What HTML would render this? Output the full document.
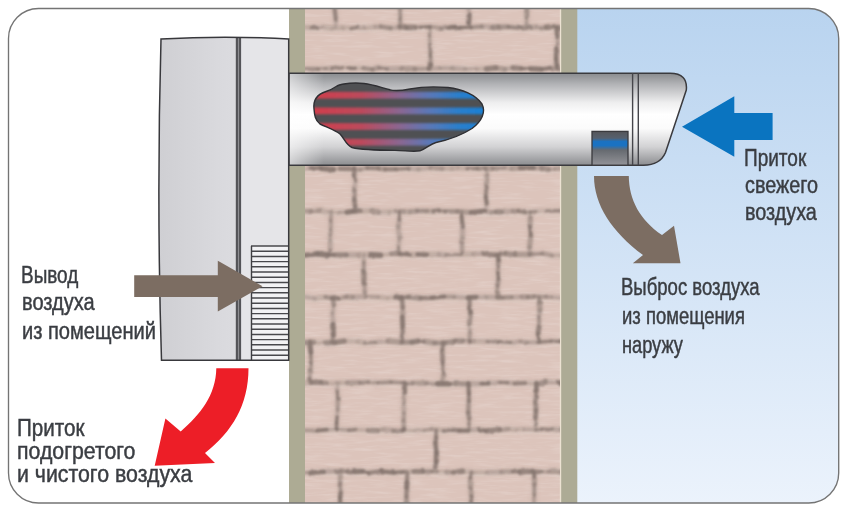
<!DOCTYPE html>
<html><head><meta charset="utf-8"><style>
html,body{margin:0;padding:0;background:#fff;}
#c{position:relative;width:846px;height:511px;overflow:hidden;background:#fff;}
.t{position:absolute;font-family:"Liberation Sans",sans-serif;line-height:1;white-space:nowrap;color:#3a3d42;transform-origin:0 0;-webkit-text-stroke:0.45px #3a3d42;}
</style></head><body><div id="c">

<svg width="846" height="511" viewBox="0 0 846 511" style="position:absolute;left:0;top:0">
<defs>
  <clipPath id="wallclip"><rect x="305" y="0" width="255" height="511"/></clipPath>
  <clipPath id="devclip"><path d="M161,39 Q225,35.5 288.7,39 L288.7,360.2 L161.5,360.2 Q156.5,200 161,39 Z"/></clipPath>
  <clipPath id="frame"><rect x="8.5" y="8.5" width="830.2" height="494.5" rx="30" ry="30"/></clipPath>
  <linearGradient id="sky" x1="0" y1="0" x2="0" y2="1">
    <stop offset="0" stop-color="#b8d3ef"/>
    <stop offset="1" stop-color="#ecf3fc"/>
  </linearGradient>
  <linearGradient id="pipeg" x1="0" y1="0" x2="0" y2="1">
    <stop offset="0" stop-color="#898b8e"/>
    <stop offset="0.12" stop-color="#b2b3b6"/>
    <stop offset="0.32" stop-color="#eeeeef"/>
    <stop offset="0.45" stop-color="#ffffff"/>
    <stop offset="0.6" stop-color="#fbfbfb"/>
    <stop offset="0.8" stop-color="#d2d2d4"/>
    <stop offset="1" stop-color="#8c8d90"/>
  </linearGradient>
  <linearGradient id="pipeL" x1="0" y1="0" x2="1" y2="0">
    <stop offset="0" stop-color="#ffffff" stop-opacity="0.55"/>
    <stop offset="1" stop-color="#ffffff" stop-opacity="0"/>
  </linearGradient>
  <linearGradient id="devL" x1="0" y1="0" x2="1" y2="0">
    <stop offset="0" stop-color="#cfcfd3"/>
    <stop offset="0.5" stop-color="#dadade"/>
    <stop offset="1" stop-color="#e1e1e4"/>
  </linearGradient>
  <linearGradient id="sq" x1="0" y1="0" x2="0" y2="1">
    <stop offset="0" stop-color="#55565a"/>
    <stop offset="0.2" stop-color="#56606e"/>
    <stop offset="0.3" stop-color="#1a72c2"/>
    <stop offset="0.42" stop-color="#1a72c2"/>
    <stop offset="0.55" stop-color="#666a70"/>
    <stop offset="1" stop-color="#939398"/>
  </linearGradient>
  <linearGradient id="hx" x1="314" y1="0" x2="484" y2="0" gradientUnits="userSpaceOnUse">
    <stop offset="0" stop-color="#d03e4c"/>
    <stop offset="0.28" stop-color="#bc4a5c"/>
    <stop offset="0.5" stop-color="#8c6690"/>
    <stop offset="0.68" stop-color="#5a78b8"/>
    <stop offset="0.85" stop-color="#2a7fcc"/>
    <stop offset="1" stop-color="#1a80d4"/>
  </linearGradient>
  <clipPath id="blobclip"><path id="blobp" d="M314,109 C313,100 318,94 326,91.5 C331,90 334,88 337,86 C343,83 356,82.5 364,83.5 C373,84.5 381,87.5 390,89.8 C396,91.5 402,90.5 410,89 C420,87 436,86.5 448,87.5 C462,89 476,95 482,104 C486,112 482,121 472,128.5 C462,135 448,140 436,142.5 C430,144 426,149 420,150.8 C413,152 405,150.5 395,150.4 C380,150.3 362,150 352,147.5 C346,145 344,138 340,134 C335,130 326,127 320,124 C315,120 314.5,115 314,109 Z"/></clipPath>
  <filter id="soft" x="-5%" y="-5%" width="110%" height="110%"><feGaussianBlur stdDeviation="1.2"/></filter>
  <filter id="grain" x="305" y="0" width="255" height="511" filterUnits="userSpaceOnUse">
    <feTurbulence type="fractalNoise" baseFrequency="0.04 0.35" numOctaves="3" seed="11"/>
    <feColorMatrix type="matrix" values="0 0 0 0 1  0 0 0 0 1  0 0 0 0 1  0 0 0 -2.2 1.25"/>
  </filter>
  <filter id="halo" x="-2%" y="-2%" width="104%" height="104%"><feGaussianBlur stdDeviation="1.8"/></filter>
  <filter id="mort" x="-2%" y="-2%" width="104%" height="104%">
    <feTurbulence type="fractalNoise" baseFrequency="0.18" numOctaves="2" seed="3" result="n"/>
    <feDisplacementMap in="SourceGraphic" in2="n" scale="2.5" xChannelSelector="R" yChannelSelector="G" result="d"/>
    <feGaussianBlur in="d" stdDeviation="1.1"/>
  </filter>
</defs>
<g clip-path="url(#frame)">
  <rect x="0" y="0" width="846" height="511" fill="#ffffff"/>
  <rect x="577" y="0" width="270" height="511" fill="url(#sky)"/>
  <rect x="289" y="0" width="16.5" height="511" fill="#adab94"/>
  <rect x="561" y="0" width="16.3" height="511" fill="#adab95"/>
  <rect x="305" y="0" width="256" height="511" fill="#dcc4bb"/>
  <rect x="559.8" y="0" width="1.4" height="511" fill="#ece2d2"/>
  <rect x="305" y="0" width="255" height="511" filter="url(#grain)" opacity="0.16"/>
  <g clip-path="url(#wallclip)"><g filter="url(#mort)">
    <path d="M305,30.8 L561,30.8" stroke="#eadcd4" stroke-width="1.4" opacity="0.6"/>
<path d="M305,71.8 L561,71.8" stroke="#eadcd4" stroke-width="1.4" opacity="0.6"/>
<path d="M305,171.8 L561,171.8" stroke="#eadcd4" stroke-width="1.4" opacity="0.6"/>
<path d="M305,214.8 L561,214.8" stroke="#eadcd4" stroke-width="1.4" opacity="0.6"/>
<path d="M305,257.8 L561,257.8" stroke="#eadcd4" stroke-width="1.4" opacity="0.6"/>
<path d="M305,300.8 L561,300.8" stroke="#eadcd4" stroke-width="1.4" opacity="0.6"/>
<path d="M305,345.3 L561,345.3" stroke="#eadcd4" stroke-width="1.4" opacity="0.6"/>
<path d="M305,386.3 L561,386.3" stroke="#eadcd4" stroke-width="1.4" opacity="0.6"/>
<path d="M305,433.3 L561,433.3" stroke="#eadcd4" stroke-width="1.4" opacity="0.6"/>
<path d="M305,475.3 L561,475.3" stroke="#eadcd4" stroke-width="1.4" opacity="0.6"/>
  </g><g filter="url(#halo)"><path d="M305.0,27.2 L311.4,27.8 M311.4,27.8 L317.2,27.7 M317.2,27.7 L323.0,27.3 M323.0,27.3 L331.8,28.2 M331.8,28.2 L342.5,27.7 M342.5,27.7 L351.0,28.5 M351.0,28.5 L357.2,27.3 M357.2,27.3 L365.0,28.1 M365.0,28.1 L375.2,26.9 M375.2,26.9 L380.7,26.6 M380.7,26.6 L390.5,28.1 M390.5,28.1 L399.6,27.1 M399.6,27.1 L406.8,27.6 M406.8,27.6 L414.9,27.4 M414.9,27.4 L420.9,27.3 M420.9,27.3 L430.3,26.6 M430.3,26.6 L440.4,28.1 M440.4,28.1 L448.5,27.5 M448.5,27.5 L454.4,27.0 M454.4,27.0 L459.9,27.9 M459.9,27.9 L471.0,27.4 M471.0,27.4 L482.1,26.5 M482.1,26.5 L492.6,27.5 M492.6,27.5 L498.7,27.0 M498.7,27.0 L508.2,26.8 M508.2,26.8 L521.1,28.1 M521.1,28.1 L529.9,27.2 M529.9,27.2 L536.2,26.9 M536.2,26.9 L541.3,28.2 M541.3,28.2 L546.4,27.3 M546.4,27.3 L554.2,26.8 M554.2,26.8 L561.0,28.0 M305.0,68.9 L317.9,69.1 M317.9,69.1 L326.4,68.5 M326.4,68.5 L332.0,67.9 M332.0,67.9 L342.4,67.7 M342.4,67.7 L348.3,68.2 M348.3,68.2 L355.2,68.3 M355.2,68.3 L363.3,68.2 M363.3,68.2 L372.7,69.5 M372.7,69.5 L378.5,67.7 M378.5,67.7 L387.8,68.9 M387.8,68.9 L401.4,68.6 M401.4,68.6 L414.6,69.0 M414.6,69.0 L427.4,68.9 M427.4,68.9 L440.5,68.2 M440.5,68.2 L452.6,68.2 M452.6,68.2 L464.7,69.0 M464.7,69.0 L477.0,69.0 M477.0,69.0 L486.5,69.0 M486.5,69.0 L495.7,67.9 M495.7,67.9 L504.7,69.4 M504.7,69.4 L513.0,67.9 M513.0,67.9 L521.0,68.5 M521.0,68.5 L530.4,68.8 M530.4,68.8 L541.3,69.3 M541.3,69.3 L550.6,67.9 M550.6,67.9 L561.0,69.4 M305.0,168.9 L310.8,167.8 M310.8,167.8 L321.1,168.4 M321.1,168.4 L333.5,169.5 M333.5,169.5 L339.9,168.6 M339.9,168.6 L353.7,168.8 M353.7,168.8 L359.9,169.5 M359.9,169.5 L366.8,168.0 M366.8,168.0 L378.7,168.2 M378.7,168.2 L384.9,169.3 M384.9,169.3 L395.8,169.1 M395.8,169.1 L409.1,168.5 M409.1,168.5 L418.7,169.2 M418.7,169.2 L430.7,167.8 M430.7,167.8 L442.2,168.6 M442.2,168.6 L452.0,168.5 M452.0,168.5 L457.5,167.9 M457.5,167.9 L467.1,168.6 M467.1,168.6 L477.6,168.5 M477.6,168.5 L485.1,168.5 M485.1,168.5 L492.3,168.5 M492.3,168.5 L505.3,167.9 M505.3,167.9 L511.4,168.4 M511.4,168.4 L520.3,167.9 M520.3,167.9 L533.3,167.8 M533.3,167.8 L541.6,168.0 M541.6,168.0 L548.6,169.4 M548.6,169.4 L555.1,168.8 M555.1,168.8 L561.0,168.5 M305.0,211.3 L310.8,211.2 M310.8,211.2 L319.8,210.5 M319.8,210.5 L327.5,212.4 M327.5,212.4 L339.5,212.4 M339.5,212.4 L347.0,212.3 M347.0,212.3 L353.2,211.3 M353.2,211.3 L360.5,210.8 M360.5,210.8 L371.8,210.7 M371.8,210.7 L378.4,212.3 M378.4,212.3 L389.2,212.1 M389.2,212.1 L396.2,211.0 M396.2,211.0 L404.2,211.6 M404.2,211.6 L409.6,211.9 M409.6,211.9 L417.0,210.9 M417.0,210.9 L426.7,210.9 M426.7,210.9 L433.3,211.2 M433.3,211.2 L438.7,210.5 M438.7,210.5 L445.4,211.4 M445.4,211.4 L457.7,211.4 M457.7,211.4 L470.7,212.4 M470.7,212.4 L484.6,211.2 M484.6,211.2 L490.8,212.5 M490.8,212.5 L496.0,211.8 M496.0,211.8 L501.5,211.8 M501.5,211.8 L512.5,211.1 M512.5,211.1 L517.9,210.9 M517.9,210.9 L525.3,212.4 M525.3,212.4 L530.6,212.3 M530.6,212.3 L535.6,211.3 M535.6,211.3 L546.5,211.0 M546.5,211.0 L558.9,210.8 M558.9,210.8 L561.0,211.1 M305.0,255.2 L317.7,253.8 M317.7,253.8 L328.0,255.0 M328.0,255.0 L334.4,254.9 M334.4,254.9 L346.8,254.9 M346.8,254.9 L358.4,255.1 M358.4,255.1 L370.2,254.6 M370.2,254.6 L380.5,255.3 M380.5,255.3 L391.2,253.7 M391.2,253.7 L399.5,253.7 M399.5,253.7 L410.1,254.8 M410.1,254.8 L417.5,254.4 M417.5,254.4 L427.0,254.6 M427.0,254.6 L438.7,254.4 M438.7,254.4 L445.9,255.0 M445.9,255.0 L459.6,254.5 M459.6,254.5 L472.8,254.1 M472.8,254.1 L483.6,253.7 M483.6,253.7 L494.5,254.9 M494.5,254.9 L499.6,253.6 M499.6,253.6 L505.5,253.9 M505.5,253.9 L515.1,254.4 M515.1,254.4 L529.1,254.6 M529.1,254.6 L542.5,253.5 M542.5,253.5 L552.1,255.5 M552.1,255.5 L561.0,255.4 M305.0,296.9 L314.7,298.4 M314.7,298.4 L325.4,297.1 M325.4,297.1 L332.5,298.3 M332.5,298.3 L338.9,298.4 M338.9,298.4 L346.6,296.8 M346.6,296.8 L352.7,297.2 M352.7,297.2 L365.3,296.7 M365.3,296.7 L378.4,297.1 M378.4,297.1 L386.9,298.2 M386.9,298.2 L395.8,297.1 M395.8,297.1 L401.2,297.8 M401.2,297.8 L408.5,297.0 M408.5,297.0 L420.4,298.1 M420.4,298.1 L432.7,297.8 M432.7,297.8 L444.2,296.6 M444.2,296.6 L454.7,296.8 M454.7,296.8 L467.9,297.6 M467.9,297.6 L476.0,297.1 M476.0,297.1 L486.9,297.3 M486.9,297.3 L496.9,297.3 M496.9,297.3 L502.6,297.5 M502.6,297.5 L511.7,297.2 M511.7,297.2 L521.6,297.0 M521.6,297.0 L527.4,297.0 M527.4,297.0 L534.3,296.5 M534.3,296.5 L546.0,296.9 M546.0,296.9 L551.5,297.1 M551.5,297.1 L561.0,297.8 M305.0,342.6 L313.5,342.3 M313.5,342.3 L326.1,342.7 M326.1,342.7 L334.9,342.5 M334.9,342.5 L344.3,341.1 M344.3,341.1 L358.1,341.5 M358.1,341.5 L364.5,342.9 M364.5,342.9 L375.9,342.3 M375.9,342.3 L387.9,341.0 M387.9,341.0 L401.2,342.3 M401.2,342.3 L411.9,342.1 M411.9,342.1 L417.9,341.1 M417.9,341.1 L424.6,341.5 M424.6,341.5 L434.4,343.0 M434.4,343.0 L445.2,342.8 M445.2,342.8 L455.2,341.1 M455.2,341.1 L462.9,341.0 M462.9,341.0 L473.7,341.2 M473.7,341.2 L487.1,341.5 M487.1,341.5 L498.5,341.7 M498.5,341.7 L510.7,342.5 M510.7,342.5 L520.2,341.4 M520.2,341.4 L527.2,342.5 M527.2,342.5 L537.8,342.2 M537.8,342.2 L551.0,341.1 M551.0,341.1 L559.5,341.4 M559.5,341.4 L561.0,341.1 M305.0,383.3 L312.8,382.2 M312.8,382.2 L320.8,382.4 M320.8,382.4 L326.1,383.3 M326.1,383.3 L339.9,382.9 M339.9,382.9 L347.5,382.7 M347.5,382.7 L359.3,382.8 M359.3,382.8 L368.2,382.1 M368.2,382.1 L378.1,382.9 M378.1,382.9 L391.1,382.1 M391.1,382.1 L401.8,382.8 M401.8,382.8 L407.3,383.8 M407.3,383.8 L412.9,383.2 M412.9,383.2 L426.5,383.2 M426.5,383.2 L437.7,383.8 M437.7,383.8 L449.5,383.8 M449.5,383.8 L455.1,383.7 M455.1,383.7 L468.7,383.9 M468.7,383.9 L481.9,383.6 M481.9,383.6 L488.6,383.6 M488.6,383.6 L499.8,382.3 M499.8,382.3 L507.7,382.7 M507.7,382.7 L514.5,383.5 M514.5,383.5 L525.3,383.0 M525.3,383.0 L539.1,383.8 M539.1,383.8 L544.9,382.2 M544.9,382.2 L558.6,382.3 M558.6,382.3 L561.0,383.3 M305.0,430.4 L316.8,430.6 M316.8,430.6 L326.9,429.7 M326.9,429.7 L335.9,429.4 M335.9,429.4 L348.9,430.2 M348.9,430.2 L356.1,429.5 M356.1,429.5 L368.4,430.3 M368.4,430.3 L377.7,430.6 M377.7,430.6 L383.0,429.6 M383.0,429.6 L393.4,430.7 M393.4,430.7 L401.8,430.7 M401.8,430.7 L413.8,430.3 M413.8,430.3 L424.1,430.2 M424.1,430.2 L432.2,429.1 M432.2,429.1 L443.8,430.8 M443.8,430.8 L452.5,429.7 M452.5,429.7 L459.3,430.6 M459.3,430.6 L468.0,430.6 M468.0,430.6 L478.7,429.2 M478.7,429.2 L486.2,431.0 M486.2,431.0 L499.7,429.6 M499.7,429.6 L508.5,429.0 M508.5,429.0 L517.0,429.8 M517.0,429.8 L523.4,429.2 M523.4,429.2 L536.3,429.9 M536.3,429.9 L541.8,429.3 M541.8,429.3 L552.4,429.7 M552.4,429.7 L560.5,429.3 M560.5,429.3 L561.0,430.0 M305.0,472.5 L310.4,472.8 M310.4,472.8 L323.7,471.8 M323.7,471.8 L336.1,471.3 M336.1,471.3 L346.7,471.4 M346.7,471.4 L353.6,471.8 M353.6,471.8 L361.9,471.3 M361.9,471.3 L368.6,472.8 M368.6,472.8 L381.2,471.2 M381.2,471.2 L393.8,472.6 M393.8,472.6 L404.0,471.9 M404.0,471.9 L413.6,471.4 M413.6,471.4 L423.0,471.5 M423.0,471.5 L432.1,471.4 M432.1,471.4 L437.7,471.7 M437.7,471.7 L446.7,472.0 M446.7,472.0 L452.9,472.8 M452.9,472.8 L462.5,471.1 M462.5,471.1 L473.3,472.6 M473.3,472.6 L487.3,472.5 M487.3,472.5 L501.1,472.0 M501.1,472.0 L512.6,471.4 M512.6,471.4 L519.9,471.6 M519.9,471.6 L532.2,471.3 M532.2,471.3 L541.6,472.2 M541.6,472.2 L549.4,471.1 M549.4,471.1 L560.2,471.6 M560.2,471.6 L561.0,472.6 M334.5,8.0 L335.8,19.0 M335.8,19.0 L335.7,27.5 M400.0,8.0 L400.4,19.0 M400.4,19.0 L400.1,27.5 M468.5,8.0 L469.2,14.6 M469.2,14.6 L468.7,23.2 M468.7,23.2 L469.4,27.5 M526.7,8.0 L526.9,17.4 M526.9,17.4 L526.5,23.3 M526.5,23.3 L526.7,27.5 M430.0,27.5 L429.6,35.4 M429.6,35.4 L430.0,44.8 M430.0,44.8 L430.4,55.4 M430.4,55.4 L430.7,64.8 M430.7,64.8 L429.1,68.5 M557.1,27.5 L557.2,36.5 M557.2,36.5 L557.7,43.3 M557.7,43.3 L556.4,48.5 M556.4,48.5 L556.1,58.9 M556.1,58.9 L556.8,65.3 M556.8,65.3 L557.3,68.5 M354.8,168.5 L354.2,175.6 M354.2,175.6 L355.6,180.6 M355.6,180.6 L354.4,190.2 M354.4,190.2 L354.3,199.7 M354.3,199.7 L355.1,206.6 M355.1,206.6 L355.8,211.5 M486.6,168.5 L486.7,175.0 M486.7,175.0 L486.6,186.4 M486.6,186.4 L485.7,196.6 M485.7,196.6 L486.7,203.2 M486.7,203.2 L486.4,211.5 M331.3,211.5 L330.7,220.5 M330.7,220.5 L331.1,229.6 M331.1,229.6 L330.3,234.8 M330.3,234.8 L330.2,240.8 M330.2,240.8 L330.2,250.3 M330.2,250.3 L331.2,254.5 M399.5,211.5 L399.3,220.2 M399.3,220.2 L398.3,226.7 M398.3,226.7 L399.5,238.1 M399.5,238.1 L398.6,247.5 M398.6,247.5 L399.3,254.5 M461.9,211.5 L461.6,216.6 M461.6,216.6 L462.7,227.0 M462.7,227.0 L462.2,237.9 M462.2,237.9 L462.0,243.1 M462.0,243.1 L462.1,253.1 M462.1,253.1 L462.1,254.5 M529.4,211.5 L530.5,217.9 M530.5,217.9 L530.0,226.4 M530.0,226.4 L530.8,235.5 M530.8,235.5 L529.6,247.1 M529.6,247.1 L529.4,253.7 M529.4,253.7 L530.1,254.5 M363.8,254.5 L363.8,262.3 M363.8,262.3 L363.8,271.8 M363.8,271.8 L364.0,283.1 M364.0,283.1 L364.8,292.6 M364.8,292.6 L364.5,297.5 M497.8,254.5 L498.6,260.6 M498.6,260.6 L497.9,266.8 M497.9,266.8 L497.9,272.7 M497.9,272.7 L498.5,279.5 M498.5,279.5 L497.5,285.6 M497.5,285.6 L497.5,293.1 M497.5,293.1 L498.9,297.5 M332.5,297.5 L333.9,305.2 M333.9,305.2 L332.5,313.2 M332.5,313.2 L332.9,324.4 M332.9,324.4 L333.3,335.0 M333.3,335.0 L332.1,342.0 M401.9,297.5 L402.7,307.7 M402.7,307.7 L402.3,316.8 M402.3,316.8 L402.7,326.4 M402.7,326.4 L402.3,336.1 M402.3,336.1 L402.4,342.0 M469.9,297.5 L469.4,307.5 M469.4,307.5 L470.6,312.6 M470.6,312.6 L469.4,324.1 M469.4,324.1 L470.0,331.9 M470.0,331.9 L469.4,340.7 M469.4,340.7 L470.1,342.0 M539.0,297.5 L539.5,302.6 M539.5,302.6 L539.8,310.5 M539.8,310.5 L539.0,316.8 M539.0,316.8 L539.2,326.1 M539.2,326.1 L538.1,333.9 M538.1,333.9 L539.3,342.0 M309.7,342.0 L310.8,352.2 M310.8,352.2 L310.8,364.1 M310.8,364.1 L310.5,370.1 M310.5,370.1 L309.5,379.0 M309.5,379.0 L310.6,383.0 M442.8,342.0 L442.3,350.8 M442.3,350.8 L442.6,361.8 M442.6,361.8 L443.3,373.7 M443.3,373.7 L442.6,383.0 M336.8,383.0 L337.2,391.4 M337.2,391.4 L337.8,398.9 M337.8,398.9 L337.7,409.7 M337.7,409.7 L337.1,417.1 M337.1,417.1 L336.6,422.6 M336.6,422.6 L336.5,428.6 M336.5,428.6 L337.7,430.0 M404.5,383.0 L404.5,392.3 M404.5,392.3 L403.5,403.1 M403.5,403.1 L403.9,413.3 M403.9,413.3 L403.5,420.2 M403.5,420.2 L404.0,429.1 M404.0,429.1 L403.4,430.0 M468.4,383.0 L468.9,393.9 M468.9,393.9 L468.9,401.0 M468.9,401.0 L468.2,412.7 M468.2,412.7 L469.2,417.9 M469.2,417.9 L469.0,423.5 M469.0,423.5 L469.2,430.0 M536.2,383.0 L536.5,390.4 M536.5,390.4 L535.9,396.9 M535.9,396.9 L535.6,402.2 M535.6,402.2 L536.0,410.1 M536.0,410.1 L535.5,417.5 M535.5,417.5 L535.7,424.8 M535.7,424.8 L535.3,430.0 M436.1,430.0 L436.1,437.8 M436.1,437.8 L435.4,442.9 M435.4,442.9 L436.5,452.5 M436.5,452.5 L436.2,461.8 M436.2,461.8 L435.2,467.4 M435.2,467.4 L436.3,472.0 M340.5,472.0 L340.1,483.5 M340.1,483.5 L340.6,492.4 M340.6,492.4 L340.1,497.7 M340.1,497.7 L340.2,504.0 M407.4,472.0 L406.9,482.4 M406.9,482.4 L406.8,487.5 M406.8,487.5 L406.4,497.1 M406.4,497.1 L406.9,502.7 M406.9,502.7 L406.1,504.0 M471.4,472.0 L470.3,478.5 M470.3,478.5 L470.5,488.6 M470.5,488.6 L471.4,496.1 M471.4,496.1 L471.2,501.7 M471.2,501.7 L470.6,504.0 M533.4,472.0 L534.3,477.1 M534.3,477.1 L534.4,484.3 M534.4,484.3 L534.2,495.1 M534.2,495.1 L533.9,504.0" stroke="#a8958d" stroke-opacity="0.22" stroke-width="7" stroke-linecap="round" stroke-linejoin="round" fill="none"/></g><g filter="url(#mort)">
    <path d="M305.0,27.2 L311.4,27.8" stroke="#85766f" stroke-opacity="0.2" stroke-width="5.1" stroke-linecap="round" fill="none"/>
<path d="M311.4,27.8 L317.2,27.7" stroke="#85766f" stroke-opacity="0.75" stroke-width="3.5" stroke-linecap="round" fill="none"/>
<path d="M317.2,27.7 L323.0,27.3" stroke="#85766f" stroke-opacity="0.3" stroke-width="3.2" stroke-linecap="round" fill="none"/>
<path d="M323.0,27.3 L331.8,28.2" stroke="#85766f" stroke-opacity="0.2" stroke-width="5.4" stroke-linecap="round" fill="none"/>
<path d="M331.8,28.2 L342.5,27.7" stroke="#85766f" stroke-opacity="0.2" stroke-width="4.4" stroke-linecap="round" fill="none"/>
<path d="M342.5,27.7 L351.0,28.5" stroke="#85766f" stroke-opacity="0.2" stroke-width="4.4" stroke-linecap="round" fill="none"/>
<path d="M351.0,28.5 L357.2,27.3" stroke="#85766f" stroke-opacity="0.75" stroke-width="3.3" stroke-linecap="round" fill="none"/>
<path d="M357.2,27.3 L365.0,28.1" stroke="#85766f" stroke-opacity="0.3" stroke-width="3.3" stroke-linecap="round" fill="none"/>
<path d="M365.0,28.1 L375.2,26.9" stroke="#85766f" stroke-opacity="0.2" stroke-width="4.4" stroke-linecap="round" fill="none"/>
<path d="M375.2,26.9 L380.7,26.6" stroke="#85766f" stroke-opacity="0.3" stroke-width="4.2" stroke-linecap="round" fill="none"/>
<path d="M380.7,26.6 L390.5,28.1" stroke="#85766f" stroke-opacity="0.6" stroke-width="4.5" stroke-linecap="round" fill="none"/>
<path d="M390.5,28.1 L399.6,27.1" stroke="#85766f" stroke-opacity="0.3" stroke-width="4.7" stroke-linecap="round" fill="none"/>
<path d="M399.6,27.1 L406.8,27.6" stroke="#85766f" stroke-opacity="0.75" stroke-width="4.2" stroke-linecap="round" fill="none"/>
<path d="M406.8,27.6 L414.9,27.4" stroke="#85766f" stroke-opacity="0.75" stroke-width="5.5" stroke-linecap="round" fill="none"/>
<path d="M414.9,27.4 L420.9,27.3" stroke="#85766f" stroke-opacity="0.45" stroke-width="3.4" stroke-linecap="round" fill="none"/>
<path d="M420.9,27.3 L430.3,26.6" stroke="#85766f" stroke-opacity="0.9" stroke-width="3.2" stroke-linecap="round" fill="none"/>
<path d="M430.3,26.6 L440.4,28.1" stroke="#85766f" stroke-opacity="0.45" stroke-width="3.9" stroke-linecap="round" fill="none"/>
<path d="M440.4,28.1 L448.5,27.5" stroke="#85766f" stroke-opacity="0.6" stroke-width="3.2" stroke-linecap="round" fill="none"/>
<path d="M448.5,27.5 L454.4,27.0" stroke="#85766f" stroke-opacity="0.9" stroke-width="4.7" stroke-linecap="round" fill="none"/>
<path d="M454.4,27.0 L459.9,27.9" stroke="#85766f" stroke-opacity="0.9" stroke-width="4.4" stroke-linecap="round" fill="none"/>
<path d="M459.9,27.9 L471.0,27.4" stroke="#85766f" stroke-opacity="0.9" stroke-width="4.0" stroke-linecap="round" fill="none"/>
<path d="M471.0,27.4 L482.1,26.5" stroke="#85766f" stroke-opacity="0.6" stroke-width="3.9" stroke-linecap="round" fill="none"/>
<path d="M482.1,26.5 L492.6,27.5" stroke="#85766f" stroke-opacity="0.3" stroke-width="4.9" stroke-linecap="round" fill="none"/>
<path d="M492.6,27.5 L498.7,27.0" stroke="#85766f" stroke-opacity="0.6" stroke-width="5.3" stroke-linecap="round" fill="none"/>
<path d="M498.7,27.0 L508.2,26.8" stroke="#85766f" stroke-opacity="0.6" stroke-width="4.4" stroke-linecap="round" fill="none"/>
<path d="M508.2,26.8 L521.1,28.1" stroke="#85766f" stroke-opacity="0.75" stroke-width="3.7" stroke-linecap="round" fill="none"/>
<path d="M521.1,28.1 L529.9,27.2" stroke="#85766f" stroke-opacity="0.6" stroke-width="5.4" stroke-linecap="round" fill="none"/>
<path d="M529.9,27.2 L536.2,26.9" stroke="#85766f" stroke-opacity="0.3" stroke-width="4.6" stroke-linecap="round" fill="none"/>
<path d="M536.2,26.9 L541.3,28.2" stroke="#85766f" stroke-opacity="0.3" stroke-width="3.7" stroke-linecap="round" fill="none"/>
<path d="M541.3,28.2 L546.4,27.3" stroke="#85766f" stroke-opacity="0.45" stroke-width="4.5" stroke-linecap="round" fill="none"/>
<path d="M546.4,27.3 L554.2,26.8" stroke="#85766f" stroke-opacity="0.75" stroke-width="5.4" stroke-linecap="round" fill="none"/>
<path d="M554.2,26.8 L561.0,28.0" stroke="#85766f" stroke-opacity="0.6" stroke-width="5.2" stroke-linecap="round" fill="none"/>
<path d="M305.0,68.9 L317.9,69.1" stroke="#85766f" stroke-opacity="0.6" stroke-width="4.0" stroke-linecap="round" fill="none"/>
<path d="M317.9,69.1 L326.4,68.5" stroke="#85766f" stroke-opacity="0.6" stroke-width="3.2" stroke-linecap="round" fill="none"/>
<path d="M326.4,68.5 L332.0,67.9" stroke="#85766f" stroke-opacity="0.3" stroke-width="3.3" stroke-linecap="round" fill="none"/>
<path d="M332.0,67.9 L342.4,67.7" stroke="#85766f" stroke-opacity="0.75" stroke-width="3.4" stroke-linecap="round" fill="none"/>
<path d="M342.4,67.7 L348.3,68.2" stroke="#85766f" stroke-opacity="0.2" stroke-width="3.2" stroke-linecap="round" fill="none"/>
<path d="M348.3,68.2 L355.2,68.3" stroke="#85766f" stroke-opacity="0.9" stroke-width="3.6" stroke-linecap="round" fill="none"/>
<path d="M355.2,68.3 L363.3,68.2" stroke="#85766f" stroke-opacity="0.2" stroke-width="3.3" stroke-linecap="round" fill="none"/>
<path d="M363.3,68.2 L372.7,69.5" stroke="#85766f" stroke-opacity="0.6" stroke-width="4.2" stroke-linecap="round" fill="none"/>
<path d="M372.7,69.5 L378.5,67.7" stroke="#85766f" stroke-opacity="0.45" stroke-width="4.9" stroke-linecap="round" fill="none"/>
<path d="M378.5,67.7 L387.8,68.9" stroke="#85766f" stroke-opacity="0.75" stroke-width="3.1" stroke-linecap="round" fill="none"/>
<path d="M387.8,68.9 L401.4,68.6" stroke="#85766f" stroke-opacity="0.3" stroke-width="4.7" stroke-linecap="round" fill="none"/>
<path d="M401.4,68.6 L414.6,69.0" stroke="#85766f" stroke-opacity="0.45" stroke-width="5.4" stroke-linecap="round" fill="none"/>
<path d="M414.6,69.0 L427.4,68.9" stroke="#85766f" stroke-opacity="0.45" stroke-width="4.3" stroke-linecap="round" fill="none"/>
<path d="M427.4,68.9 L440.5,68.2" stroke="#85766f" stroke-opacity="0.3" stroke-width="4.3" stroke-linecap="round" fill="none"/>
<path d="M440.5,68.2 L452.6,68.2" stroke="#85766f" stroke-opacity="0.3" stroke-width="4.5" stroke-linecap="round" fill="none"/>
<path d="M452.6,68.2 L464.7,69.0" stroke="#85766f" stroke-opacity="0.3" stroke-width="5.0" stroke-linecap="round" fill="none"/>
<path d="M464.7,69.0 L477.0,69.0" stroke="#85766f" stroke-opacity="0.3" stroke-width="3.5" stroke-linecap="round" fill="none"/>
<path d="M477.0,69.0 L486.5,69.0" stroke="#85766f" stroke-opacity="0.2" stroke-width="5.0" stroke-linecap="round" fill="none"/>
<path d="M486.5,69.0 L495.7,67.9" stroke="#85766f" stroke-opacity="0.75" stroke-width="5.4" stroke-linecap="round" fill="none"/>
<path d="M495.7,67.9 L504.7,69.4" stroke="#85766f" stroke-opacity="0.45" stroke-width="5.4" stroke-linecap="round" fill="none"/>
<path d="M504.7,69.4 L513.0,67.9" stroke="#85766f" stroke-opacity="0.3" stroke-width="4.2" stroke-linecap="round" fill="none"/>
<path d="M513.0,67.9 L521.0,68.5" stroke="#85766f" stroke-opacity="0.75" stroke-width="5.1" stroke-linecap="round" fill="none"/>
<path d="M521.0,68.5 L530.4,68.8" stroke="#85766f" stroke-opacity="0.9" stroke-width="3.2" stroke-linecap="round" fill="none"/>
<path d="M530.4,68.8 L541.3,69.3" stroke="#85766f" stroke-opacity="0.9" stroke-width="4.9" stroke-linecap="round" fill="none"/>
<path d="M541.3,69.3 L550.6,67.9" stroke="#85766f" stroke-opacity="0.9" stroke-width="3.8" stroke-linecap="round" fill="none"/>
<path d="M550.6,67.9 L561.0,69.4" stroke="#85766f" stroke-opacity="0.6" stroke-width="4.2" stroke-linecap="round" fill="none"/>
<path d="M305.0,168.9 L310.8,167.8" stroke="#85766f" stroke-opacity="0.3" stroke-width="3.1" stroke-linecap="round" fill="none"/>
<path d="M310.8,167.8 L321.1,168.4" stroke="#85766f" stroke-opacity="0.9" stroke-width="3.4" stroke-linecap="round" fill="none"/>
<path d="M321.1,168.4 L333.5,169.5" stroke="#85766f" stroke-opacity="0.9" stroke-width="5.3" stroke-linecap="round" fill="none"/>
<path d="M333.5,169.5 L339.9,168.6" stroke="#85766f" stroke-opacity="0.2" stroke-width="3.0" stroke-linecap="round" fill="none"/>
<path d="M339.9,168.6 L353.7,168.8" stroke="#85766f" stroke-opacity="0.75" stroke-width="4.9" stroke-linecap="round" fill="none"/>
<path d="M353.7,168.8 L359.9,169.5" stroke="#85766f" stroke-opacity="0.3" stroke-width="5.1" stroke-linecap="round" fill="none"/>
<path d="M359.9,169.5 L366.8,168.0" stroke="#85766f" stroke-opacity="0.45" stroke-width="4.3" stroke-linecap="round" fill="none"/>
<path d="M366.8,168.0 L378.7,168.2" stroke="#85766f" stroke-opacity="0.75" stroke-width="4.0" stroke-linecap="round" fill="none"/>
<path d="M378.7,168.2 L384.9,169.3" stroke="#85766f" stroke-opacity="0.45" stroke-width="5.2" stroke-linecap="round" fill="none"/>
<path d="M384.9,169.3 L395.8,169.1" stroke="#85766f" stroke-opacity="0.75" stroke-width="4.1" stroke-linecap="round" fill="none"/>
<path d="M395.8,169.1 L409.1,168.5" stroke="#85766f" stroke-opacity="0.75" stroke-width="3.4" stroke-linecap="round" fill="none"/>
<path d="M409.1,168.5 L418.7,169.2" stroke="#85766f" stroke-opacity="0.3" stroke-width="4.5" stroke-linecap="round" fill="none"/>
<path d="M418.7,169.2 L430.7,167.8" stroke="#85766f" stroke-opacity="0.3" stroke-width="4.2" stroke-linecap="round" fill="none"/>
<path d="M430.7,167.8 L442.2,168.6" stroke="#85766f" stroke-opacity="0.45" stroke-width="4.7" stroke-linecap="round" fill="none"/>
<path d="M442.2,168.6 L452.0,168.5" stroke="#85766f" stroke-opacity="0.2" stroke-width="5.2" stroke-linecap="round" fill="none"/>
<path d="M452.0,168.5 L457.5,167.9" stroke="#85766f" stroke-opacity="0.2" stroke-width="4.9" stroke-linecap="round" fill="none"/>
<path d="M457.5,167.9 L467.1,168.6" stroke="#85766f" stroke-opacity="0.2" stroke-width="4.1" stroke-linecap="round" fill="none"/>
<path d="M467.1,168.6 L477.6,168.5" stroke="#85766f" stroke-opacity="0.75" stroke-width="3.5" stroke-linecap="round" fill="none"/>
<path d="M477.6,168.5 L485.1,168.5" stroke="#85766f" stroke-opacity="0.6" stroke-width="4.3" stroke-linecap="round" fill="none"/>
<path d="M485.1,168.5 L492.3,168.5" stroke="#85766f" stroke-opacity="0.45" stroke-width="5.3" stroke-linecap="round" fill="none"/>
<path d="M492.3,168.5 L505.3,167.9" stroke="#85766f" stroke-opacity="0.6" stroke-width="3.3" stroke-linecap="round" fill="none"/>
<path d="M505.3,167.9 L511.4,168.4" stroke="#85766f" stroke-opacity="0.2" stroke-width="4.7" stroke-linecap="round" fill="none"/>
<path d="M511.4,168.4 L520.3,167.9" stroke="#85766f" stroke-opacity="0.45" stroke-width="5.0" stroke-linecap="round" fill="none"/>
<path d="M520.3,167.9 L533.3,167.8" stroke="#85766f" stroke-opacity="0.9" stroke-width="4.6" stroke-linecap="round" fill="none"/>
<path d="M533.3,167.8 L541.6,168.0" stroke="#85766f" stroke-opacity="0.3" stroke-width="5.4" stroke-linecap="round" fill="none"/>
<path d="M541.6,168.0 L548.6,169.4" stroke="#85766f" stroke-opacity="0.6" stroke-width="5.2" stroke-linecap="round" fill="none"/>
<path d="M548.6,169.4 L555.1,168.8" stroke="#85766f" stroke-opacity="0.3" stroke-width="3.4" stroke-linecap="round" fill="none"/>
<path d="M555.1,168.8 L561.0,168.5" stroke="#85766f" stroke-opacity="0.45" stroke-width="4.1" stroke-linecap="round" fill="none"/>
<path d="M305.0,211.3 L310.8,211.2" stroke="#85766f" stroke-opacity="0.45" stroke-width="4.4" stroke-linecap="round" fill="none"/>
<path d="M310.8,211.2 L319.8,210.5" stroke="#85766f" stroke-opacity="0.45" stroke-width="4.3" stroke-linecap="round" fill="none"/>
<path d="M319.8,210.5 L327.5,212.4" stroke="#85766f" stroke-opacity="0.2" stroke-width="5.5" stroke-linecap="round" fill="none"/>
<path d="M327.5,212.4 L339.5,212.4" stroke="#85766f" stroke-opacity="0.2" stroke-width="3.2" stroke-linecap="round" fill="none"/>
<path d="M339.5,212.4 L347.0,212.3" stroke="#85766f" stroke-opacity="0.3" stroke-width="3.7" stroke-linecap="round" fill="none"/>
<path d="M347.0,212.3 L353.2,211.3" stroke="#85766f" stroke-opacity="0.9" stroke-width="5.0" stroke-linecap="round" fill="none"/>
<path d="M353.2,211.3 L360.5,210.8" stroke="#85766f" stroke-opacity="0.75" stroke-width="4.4" stroke-linecap="round" fill="none"/>
<path d="M360.5,210.8 L371.8,210.7" stroke="#85766f" stroke-opacity="0.2" stroke-width="5.0" stroke-linecap="round" fill="none"/>
<path d="M371.8,210.7 L378.4,212.3" stroke="#85766f" stroke-opacity="0.45" stroke-width="5.3" stroke-linecap="round" fill="none"/>
<path d="M378.4,212.3 L389.2,212.1" stroke="#85766f" stroke-opacity="0.2" stroke-width="4.5" stroke-linecap="round" fill="none"/>
<path d="M389.2,212.1 L396.2,211.0" stroke="#85766f" stroke-opacity="0.2" stroke-width="4.1" stroke-linecap="round" fill="none"/>
<path d="M396.2,211.0 L404.2,211.6" stroke="#85766f" stroke-opacity="0.45" stroke-width="4.6" stroke-linecap="round" fill="none"/>
<path d="M404.2,211.6 L409.6,211.9" stroke="#85766f" stroke-opacity="0.2" stroke-width="5.4" stroke-linecap="round" fill="none"/>
<path d="M409.6,211.9 L417.0,210.9" stroke="#85766f" stroke-opacity="0.45" stroke-width="4.6" stroke-linecap="round" fill="none"/>
<path d="M417.0,210.9 L426.7,210.9" stroke="#85766f" stroke-opacity="0.6" stroke-width="4.3" stroke-linecap="round" fill="none"/>
<path d="M426.7,210.9 L433.3,211.2" stroke="#85766f" stroke-opacity="0.2" stroke-width="5.5" stroke-linecap="round" fill="none"/>
<path d="M433.3,211.2 L438.7,210.5" stroke="#85766f" stroke-opacity="0.75" stroke-width="4.4" stroke-linecap="round" fill="none"/>
<path d="M438.7,210.5 L445.4,211.4" stroke="#85766f" stroke-opacity="0.6" stroke-width="3.3" stroke-linecap="round" fill="none"/>
<path d="M445.4,211.4 L457.7,211.4" stroke="#85766f" stroke-opacity="0.6" stroke-width="4.4" stroke-linecap="round" fill="none"/>
<path d="M457.7,211.4 L470.7,212.4" stroke="#85766f" stroke-opacity="0.45" stroke-width="4.7" stroke-linecap="round" fill="none"/>
<path d="M470.7,212.4 L484.6,211.2" stroke="#85766f" stroke-opacity="0.9" stroke-width="4.8" stroke-linecap="round" fill="none"/>
<path d="M484.6,211.2 L490.8,212.5" stroke="#85766f" stroke-opacity="0.2" stroke-width="5.1" stroke-linecap="round" fill="none"/>
<path d="M490.8,212.5 L496.0,211.8" stroke="#85766f" stroke-opacity="0.45" stroke-width="4.1" stroke-linecap="round" fill="none"/>
<path d="M496.0,211.8 L501.5,211.8" stroke="#85766f" stroke-opacity="0.6" stroke-width="5.2" stroke-linecap="round" fill="none"/>
<path d="M501.5,211.8 L512.5,211.1" stroke="#85766f" stroke-opacity="0.3" stroke-width="4.7" stroke-linecap="round" fill="none"/>
<path d="M512.5,211.1 L517.9,210.9" stroke="#85766f" stroke-opacity="0.45" stroke-width="4.1" stroke-linecap="round" fill="none"/>
<path d="M517.9,210.9 L525.3,212.4" stroke="#85766f" stroke-opacity="0.75" stroke-width="3.8" stroke-linecap="round" fill="none"/>
<path d="M525.3,212.4 L530.6,212.3" stroke="#85766f" stroke-opacity="0.3" stroke-width="3.9" stroke-linecap="round" fill="none"/>
<path d="M530.6,212.3 L535.6,211.3" stroke="#85766f" stroke-opacity="0.6" stroke-width="3.7" stroke-linecap="round" fill="none"/>
<path d="M535.6,211.3 L546.5,211.0" stroke="#85766f" stroke-opacity="0.2" stroke-width="3.2" stroke-linecap="round" fill="none"/>
<path d="M546.5,211.0 L558.9,210.8" stroke="#85766f" stroke-opacity="0.75" stroke-width="3.1" stroke-linecap="round" fill="none"/>
<path d="M558.9,210.8 L561.0,211.1" stroke="#85766f" stroke-opacity="0.3" stroke-width="3.2" stroke-linecap="round" fill="none"/>
<path d="M305.0,255.2 L317.7,253.8" stroke="#85766f" stroke-opacity="0.9" stroke-width="5.0" stroke-linecap="round" fill="none"/>
<path d="M317.7,253.8 L328.0,255.0" stroke="#85766f" stroke-opacity="0.9" stroke-width="5.5" stroke-linecap="round" fill="none"/>
<path d="M328.0,255.0 L334.4,254.9" stroke="#85766f" stroke-opacity="0.9" stroke-width="3.4" stroke-linecap="round" fill="none"/>
<path d="M334.4,254.9 L346.8,254.9" stroke="#85766f" stroke-opacity="0.75" stroke-width="4.6" stroke-linecap="round" fill="none"/>
<path d="M346.8,254.9 L358.4,255.1" stroke="#85766f" stroke-opacity="0.3" stroke-width="5.3" stroke-linecap="round" fill="none"/>
<path d="M358.4,255.1 L370.2,254.6" stroke="#85766f" stroke-opacity="0.2" stroke-width="5.1" stroke-linecap="round" fill="none"/>
<path d="M370.2,254.6 L380.5,255.3" stroke="#85766f" stroke-opacity="0.9" stroke-width="5.4" stroke-linecap="round" fill="none"/>
<path d="M380.5,255.3 L391.2,253.7" stroke="#85766f" stroke-opacity="0.2" stroke-width="3.3" stroke-linecap="round" fill="none"/>
<path d="M391.2,253.7 L399.5,253.7" stroke="#85766f" stroke-opacity="0.6" stroke-width="4.4" stroke-linecap="round" fill="none"/>
<path d="M399.5,253.7 L410.1,254.8" stroke="#85766f" stroke-opacity="0.9" stroke-width="3.6" stroke-linecap="round" fill="none"/>
<path d="M410.1,254.8 L417.5,254.4" stroke="#85766f" stroke-opacity="0.2" stroke-width="4.9" stroke-linecap="round" fill="none"/>
<path d="M417.5,254.4 L427.0,254.6" stroke="#85766f" stroke-opacity="0.9" stroke-width="4.3" stroke-linecap="round" fill="none"/>
<path d="M427.0,254.6 L438.7,254.4" stroke="#85766f" stroke-opacity="0.2" stroke-width="5.1" stroke-linecap="round" fill="none"/>
<path d="M438.7,254.4 L445.9,255.0" stroke="#85766f" stroke-opacity="0.3" stroke-width="4.8" stroke-linecap="round" fill="none"/>
<path d="M445.9,255.0 L459.6,254.5" stroke="#85766f" stroke-opacity="0.6" stroke-width="3.2" stroke-linecap="round" fill="none"/>
<path d="M459.6,254.5 L472.8,254.1" stroke="#85766f" stroke-opacity="0.2" stroke-width="4.5" stroke-linecap="round" fill="none"/>
<path d="M472.8,254.1 L483.6,253.7" stroke="#85766f" stroke-opacity="0.3" stroke-width="3.8" stroke-linecap="round" fill="none"/>
<path d="M483.6,253.7 L494.5,254.9" stroke="#85766f" stroke-opacity="0.75" stroke-width="4.4" stroke-linecap="round" fill="none"/>
<path d="M494.5,254.9 L499.6,253.6" stroke="#85766f" stroke-opacity="0.45" stroke-width="5.4" stroke-linecap="round" fill="none"/>
<path d="M499.6,253.6 L505.5,253.9" stroke="#85766f" stroke-opacity="0.6" stroke-width="3.7" stroke-linecap="round" fill="none"/>
<path d="M505.5,253.9 L515.1,254.4" stroke="#85766f" stroke-opacity="0.6" stroke-width="4.9" stroke-linecap="round" fill="none"/>
<path d="M515.1,254.4 L529.1,254.6" stroke="#85766f" stroke-opacity="0.45" stroke-width="5.4" stroke-linecap="round" fill="none"/>
<path d="M529.1,254.6 L542.5,253.5" stroke="#85766f" stroke-opacity="0.6" stroke-width="3.2" stroke-linecap="round" fill="none"/>
<path d="M542.5,253.5 L552.1,255.5" stroke="#85766f" stroke-opacity="0.45" stroke-width="4.0" stroke-linecap="round" fill="none"/>
<path d="M552.1,255.5 L561.0,255.4" stroke="#85766f" stroke-opacity="0.2" stroke-width="4.5" stroke-linecap="round" fill="none"/>
<path d="M305.0,296.9 L314.7,298.4" stroke="#85766f" stroke-opacity="0.3" stroke-width="4.5" stroke-linecap="round" fill="none"/>
<path d="M314.7,298.4 L325.4,297.1" stroke="#85766f" stroke-opacity="0.2" stroke-width="4.8" stroke-linecap="round" fill="none"/>
<path d="M325.4,297.1 L332.5,298.3" stroke="#85766f" stroke-opacity="0.6" stroke-width="4.0" stroke-linecap="round" fill="none"/>
<path d="M332.5,298.3 L338.9,298.4" stroke="#85766f" stroke-opacity="0.9" stroke-width="4.1" stroke-linecap="round" fill="none"/>
<path d="M338.9,298.4 L346.6,296.8" stroke="#85766f" stroke-opacity="0.45" stroke-width="3.9" stroke-linecap="round" fill="none"/>
<path d="M346.6,296.8 L352.7,297.2" stroke="#85766f" stroke-opacity="0.45" stroke-width="4.9" stroke-linecap="round" fill="none"/>
<path d="M352.7,297.2 L365.3,296.7" stroke="#85766f" stroke-opacity="0.3" stroke-width="4.8" stroke-linecap="round" fill="none"/>
<path d="M365.3,296.7 L378.4,297.1" stroke="#85766f" stroke-opacity="0.45" stroke-width="3.2" stroke-linecap="round" fill="none"/>
<path d="M378.4,297.1 L386.9,298.2" stroke="#85766f" stroke-opacity="0.2" stroke-width="3.9" stroke-linecap="round" fill="none"/>
<path d="M386.9,298.2 L395.8,297.1" stroke="#85766f" stroke-opacity="0.2" stroke-width="3.7" stroke-linecap="round" fill="none"/>
<path d="M395.8,297.1 L401.2,297.8" stroke="#85766f" stroke-opacity="0.9" stroke-width="5.3" stroke-linecap="round" fill="none"/>
<path d="M401.2,297.8 L408.5,297.0" stroke="#85766f" stroke-opacity="0.75" stroke-width="3.8" stroke-linecap="round" fill="none"/>
<path d="M408.5,297.0 L420.4,298.1" stroke="#85766f" stroke-opacity="0.6" stroke-width="5.2" stroke-linecap="round" fill="none"/>
<path d="M420.4,298.1 L432.7,297.8" stroke="#85766f" stroke-opacity="0.75" stroke-width="4.4" stroke-linecap="round" fill="none"/>
<path d="M432.7,297.8 L444.2,296.6" stroke="#85766f" stroke-opacity="0.9" stroke-width="4.0" stroke-linecap="round" fill="none"/>
<path d="M444.2,296.6 L454.7,296.8" stroke="#85766f" stroke-opacity="0.45" stroke-width="4.2" stroke-linecap="round" fill="none"/>
<path d="M454.7,296.8 L467.9,297.6" stroke="#85766f" stroke-opacity="0.3" stroke-width="4.2" stroke-linecap="round" fill="none"/>
<path d="M467.9,297.6 L476.0,297.1" stroke="#85766f" stroke-opacity="0.9" stroke-width="4.8" stroke-linecap="round" fill="none"/>
<path d="M476.0,297.1 L486.9,297.3" stroke="#85766f" stroke-opacity="0.3" stroke-width="3.8" stroke-linecap="round" fill="none"/>
<path d="M486.9,297.3 L496.9,297.3" stroke="#85766f" stroke-opacity="0.3" stroke-width="4.6" stroke-linecap="round" fill="none"/>
<path d="M496.9,297.3 L502.6,297.5" stroke="#85766f" stroke-opacity="0.6" stroke-width="4.4" stroke-linecap="round" fill="none"/>
<path d="M502.6,297.5 L511.7,297.2" stroke="#85766f" stroke-opacity="0.6" stroke-width="4.1" stroke-linecap="round" fill="none"/>
<path d="M511.7,297.2 L521.6,297.0" stroke="#85766f" stroke-opacity="0.3" stroke-width="3.9" stroke-linecap="round" fill="none"/>
<path d="M521.6,297.0 L527.4,297.0" stroke="#85766f" stroke-opacity="0.45" stroke-width="5.0" stroke-linecap="round" fill="none"/>
<path d="M527.4,297.0 L534.3,296.5" stroke="#85766f" stroke-opacity="0.6" stroke-width="4.0" stroke-linecap="round" fill="none"/>
<path d="M534.3,296.5 L546.0,296.9" stroke="#85766f" stroke-opacity="0.45" stroke-width="3.8" stroke-linecap="round" fill="none"/>
<path d="M546.0,296.9 L551.5,297.1" stroke="#85766f" stroke-opacity="0.45" stroke-width="3.3" stroke-linecap="round" fill="none"/>
<path d="M551.5,297.1 L561.0,297.8" stroke="#85766f" stroke-opacity="0.3" stroke-width="3.2" stroke-linecap="round" fill="none"/>
<path d="M305.0,342.6 L313.5,342.3" stroke="#85766f" stroke-opacity="0.6" stroke-width="5.4" stroke-linecap="round" fill="none"/>
<path d="M313.5,342.3 L326.1,342.7" stroke="#85766f" stroke-opacity="0.2" stroke-width="3.3" stroke-linecap="round" fill="none"/>
<path d="M326.1,342.7 L334.9,342.5" stroke="#85766f" stroke-opacity="0.6" stroke-width="5.4" stroke-linecap="round" fill="none"/>
<path d="M334.9,342.5 L344.3,341.1" stroke="#85766f" stroke-opacity="0.75" stroke-width="5.1" stroke-linecap="round" fill="none"/>
<path d="M344.3,341.1 L358.1,341.5" stroke="#85766f" stroke-opacity="0.2" stroke-width="3.6" stroke-linecap="round" fill="none"/>
<path d="M358.1,341.5 L364.5,342.9" stroke="#85766f" stroke-opacity="0.2" stroke-width="5.4" stroke-linecap="round" fill="none"/>
<path d="M364.5,342.9 L375.9,342.3" stroke="#85766f" stroke-opacity="0.6" stroke-width="3.2" stroke-linecap="round" fill="none"/>
<path d="M375.9,342.3 L387.9,341.0" stroke="#85766f" stroke-opacity="0.3" stroke-width="3.6" stroke-linecap="round" fill="none"/>
<path d="M387.9,341.0 L401.2,342.3" stroke="#85766f" stroke-opacity="0.45" stroke-width="5.4" stroke-linecap="round" fill="none"/>
<path d="M401.2,342.3 L411.9,342.1" stroke="#85766f" stroke-opacity="0.6" stroke-width="4.7" stroke-linecap="round" fill="none"/>
<path d="M411.9,342.1 L417.9,341.1" stroke="#85766f" stroke-opacity="0.75" stroke-width="5.4" stroke-linecap="round" fill="none"/>
<path d="M417.9,341.1 L424.6,341.5" stroke="#85766f" stroke-opacity="0.75" stroke-width="3.0" stroke-linecap="round" fill="none"/>
<path d="M424.6,341.5 L434.4,343.0" stroke="#85766f" stroke-opacity="0.45" stroke-width="5.4" stroke-linecap="round" fill="none"/>
<path d="M434.4,343.0 L445.2,342.8" stroke="#85766f" stroke-opacity="0.6" stroke-width="4.3" stroke-linecap="round" fill="none"/>
<path d="M445.2,342.8 L455.2,341.1" stroke="#85766f" stroke-opacity="0.6" stroke-width="4.8" stroke-linecap="round" fill="none"/>
<path d="M455.2,341.1 L462.9,341.0" stroke="#85766f" stroke-opacity="0.6" stroke-width="5.2" stroke-linecap="round" fill="none"/>
<path d="M462.9,341.0 L473.7,341.2" stroke="#85766f" stroke-opacity="0.3" stroke-width="4.7" stroke-linecap="round" fill="none"/>
<path d="M473.7,341.2 L487.1,341.5" stroke="#85766f" stroke-opacity="0.2" stroke-width="4.7" stroke-linecap="round" fill="none"/>
<path d="M487.1,341.5 L498.5,341.7" stroke="#85766f" stroke-opacity="0.6" stroke-width="3.5" stroke-linecap="round" fill="none"/>
<path d="M498.5,341.7 L510.7,342.5" stroke="#85766f" stroke-opacity="0.75" stroke-width="3.2" stroke-linecap="round" fill="none"/>
<path d="M510.7,342.5 L520.2,341.4" stroke="#85766f" stroke-opacity="0.3" stroke-width="3.6" stroke-linecap="round" fill="none"/>
<path d="M520.2,341.4 L527.2,342.5" stroke="#85766f" stroke-opacity="0.45" stroke-width="3.3" stroke-linecap="round" fill="none"/>
<path d="M527.2,342.5 L537.8,342.2" stroke="#85766f" stroke-opacity="0.3" stroke-width="4.2" stroke-linecap="round" fill="none"/>
<path d="M537.8,342.2 L551.0,341.1" stroke="#85766f" stroke-opacity="0.75" stroke-width="3.4" stroke-linecap="round" fill="none"/>
<path d="M551.0,341.1 L559.5,341.4" stroke="#85766f" stroke-opacity="0.75" stroke-width="3.4" stroke-linecap="round" fill="none"/>
<path d="M559.5,341.4 L561.0,341.1" stroke="#85766f" stroke-opacity="0.6" stroke-width="4.1" stroke-linecap="round" fill="none"/>
<path d="M305.0,383.3 L312.8,382.2" stroke="#85766f" stroke-opacity="0.2" stroke-width="5.3" stroke-linecap="round" fill="none"/>
<path d="M312.8,382.2 L320.8,382.4" stroke="#85766f" stroke-opacity="0.75" stroke-width="4.9" stroke-linecap="round" fill="none"/>
<path d="M320.8,382.4 L326.1,383.3" stroke="#85766f" stroke-opacity="0.6" stroke-width="5.1" stroke-linecap="round" fill="none"/>
<path d="M326.1,383.3 L339.9,382.9" stroke="#85766f" stroke-opacity="0.2" stroke-width="3.0" stroke-linecap="round" fill="none"/>
<path d="M339.9,382.9 L347.5,382.7" stroke="#85766f" stroke-opacity="0.2" stroke-width="4.4" stroke-linecap="round" fill="none"/>
<path d="M347.5,382.7 L359.3,382.8" stroke="#85766f" stroke-opacity="0.45" stroke-width="5.1" stroke-linecap="round" fill="none"/>
<path d="M359.3,382.8 L368.2,382.1" stroke="#85766f" stroke-opacity="0.6" stroke-width="3.5" stroke-linecap="round" fill="none"/>
<path d="M368.2,382.1 L378.1,382.9" stroke="#85766f" stroke-opacity="0.45" stroke-width="3.9" stroke-linecap="round" fill="none"/>
<path d="M378.1,382.9 L391.1,382.1" stroke="#85766f" stroke-opacity="0.6" stroke-width="3.6" stroke-linecap="round" fill="none"/>
<path d="M391.1,382.1 L401.8,382.8" stroke="#85766f" stroke-opacity="0.6" stroke-width="3.1" stroke-linecap="round" fill="none"/>
<path d="M401.8,382.8 L407.3,383.8" stroke="#85766f" stroke-opacity="0.45" stroke-width="3.5" stroke-linecap="round" fill="none"/>
<path d="M407.3,383.8 L412.9,383.2" stroke="#85766f" stroke-opacity="0.45" stroke-width="3.7" stroke-linecap="round" fill="none"/>
<path d="M412.9,383.2 L426.5,383.2" stroke="#85766f" stroke-opacity="0.45" stroke-width="4.9" stroke-linecap="round" fill="none"/>
<path d="M426.5,383.2 L437.7,383.8" stroke="#85766f" stroke-opacity="0.45" stroke-width="3.0" stroke-linecap="round" fill="none"/>
<path d="M437.7,383.8 L449.5,383.8" stroke="#85766f" stroke-opacity="0.9" stroke-width="5.4" stroke-linecap="round" fill="none"/>
<path d="M449.5,383.8 L455.1,383.7" stroke="#85766f" stroke-opacity="0.2" stroke-width="4.2" stroke-linecap="round" fill="none"/>
<path d="M455.1,383.7 L468.7,383.9" stroke="#85766f" stroke-opacity="0.6" stroke-width="5.0" stroke-linecap="round" fill="none"/>
<path d="M468.7,383.9 L481.9,383.6" stroke="#85766f" stroke-opacity="0.3" stroke-width="5.3" stroke-linecap="round" fill="none"/>
<path d="M481.9,383.6 L488.6,383.6" stroke="#85766f" stroke-opacity="0.9" stroke-width="3.8" stroke-linecap="round" fill="none"/>
<path d="M488.6,383.6 L499.8,382.3" stroke="#85766f" stroke-opacity="0.3" stroke-width="3.8" stroke-linecap="round" fill="none"/>
<path d="M499.8,382.3 L507.7,382.7" stroke="#85766f" stroke-opacity="0.75" stroke-width="3.2" stroke-linecap="round" fill="none"/>
<path d="M507.7,382.7 L514.5,383.5" stroke="#85766f" stroke-opacity="0.3" stroke-width="4.0" stroke-linecap="round" fill="none"/>
<path d="M514.5,383.5 L525.3,383.0" stroke="#85766f" stroke-opacity="0.75" stroke-width="3.8" stroke-linecap="round" fill="none"/>
<path d="M525.3,383.0 L539.1,383.8" stroke="#85766f" stroke-opacity="0.2" stroke-width="3.7" stroke-linecap="round" fill="none"/>
<path d="M539.1,383.8 L544.9,382.2" stroke="#85766f" stroke-opacity="0.6" stroke-width="5.5" stroke-linecap="round" fill="none"/>
<path d="M544.9,382.2 L558.6,382.3" stroke="#85766f" stroke-opacity="0.3" stroke-width="4.0" stroke-linecap="round" fill="none"/>
<path d="M558.6,382.3 L561.0,383.3" stroke="#85766f" stroke-opacity="0.9" stroke-width="4.3" stroke-linecap="round" fill="none"/>
<path d="M305.0,430.4 L316.8,430.6" stroke="#85766f" stroke-opacity="0.45" stroke-width="3.7" stroke-linecap="round" fill="none"/>
<path d="M316.8,430.6 L326.9,429.7" stroke="#85766f" stroke-opacity="0.9" stroke-width="3.7" stroke-linecap="round" fill="none"/>
<path d="M326.9,429.7 L335.9,429.4" stroke="#85766f" stroke-opacity="0.3" stroke-width="3.4" stroke-linecap="round" fill="none"/>
<path d="M335.9,429.4 L348.9,430.2" stroke="#85766f" stroke-opacity="0.45" stroke-width="3.2" stroke-linecap="round" fill="none"/>
<path d="M348.9,430.2 L356.1,429.5" stroke="#85766f" stroke-opacity="0.75" stroke-width="3.6" stroke-linecap="round" fill="none"/>
<path d="M356.1,429.5 L368.4,430.3" stroke="#85766f" stroke-opacity="0.2" stroke-width="3.3" stroke-linecap="round" fill="none"/>
<path d="M368.4,430.3 L377.7,430.6" stroke="#85766f" stroke-opacity="0.6" stroke-width="5.3" stroke-linecap="round" fill="none"/>
<path d="M377.7,430.6 L383.0,429.6" stroke="#85766f" stroke-opacity="0.2" stroke-width="3.1" stroke-linecap="round" fill="none"/>
<path d="M383.0,429.6 L393.4,430.7" stroke="#85766f" stroke-opacity="0.3" stroke-width="5.3" stroke-linecap="round" fill="none"/>
<path d="M393.4,430.7 L401.8,430.7" stroke="#85766f" stroke-opacity="0.6" stroke-width="4.5" stroke-linecap="round" fill="none"/>
<path d="M401.8,430.7 L413.8,430.3" stroke="#85766f" stroke-opacity="0.2" stroke-width="3.3" stroke-linecap="round" fill="none"/>
<path d="M413.8,430.3 L424.1,430.2" stroke="#85766f" stroke-opacity="0.3" stroke-width="3.1" stroke-linecap="round" fill="none"/>
<path d="M424.1,430.2 L432.2,429.1" stroke="#85766f" stroke-opacity="0.45" stroke-width="3.1" stroke-linecap="round" fill="none"/>
<path d="M432.2,429.1 L443.8,430.8" stroke="#85766f" stroke-opacity="0.2" stroke-width="5.0" stroke-linecap="round" fill="none"/>
<path d="M443.8,430.8 L452.5,429.7" stroke="#85766f" stroke-opacity="0.75" stroke-width="3.8" stroke-linecap="round" fill="none"/>
<path d="M452.5,429.7 L459.3,430.6" stroke="#85766f" stroke-opacity="0.75" stroke-width="4.2" stroke-linecap="round" fill="none"/>
<path d="M459.3,430.6 L468.0,430.6" stroke="#85766f" stroke-opacity="0.9" stroke-width="4.4" stroke-linecap="round" fill="none"/>
<path d="M468.0,430.6 L478.7,429.2" stroke="#85766f" stroke-opacity="0.3" stroke-width="4.0" stroke-linecap="round" fill="none"/>
<path d="M478.7,429.2 L486.2,431.0" stroke="#85766f" stroke-opacity="0.9" stroke-width="3.8" stroke-linecap="round" fill="none"/>
<path d="M486.2,431.0 L499.7,429.6" stroke="#85766f" stroke-opacity="0.75" stroke-width="5.2" stroke-linecap="round" fill="none"/>
<path d="M499.7,429.6 L508.5,429.0" stroke="#85766f" stroke-opacity="0.45" stroke-width="4.6" stroke-linecap="round" fill="none"/>
<path d="M508.5,429.0 L517.0,429.8" stroke="#85766f" stroke-opacity="0.2" stroke-width="4.1" stroke-linecap="round" fill="none"/>
<path d="M517.0,429.8 L523.4,429.2" stroke="#85766f" stroke-opacity="0.2" stroke-width="4.0" stroke-linecap="round" fill="none"/>
<path d="M523.4,429.2 L536.3,429.9" stroke="#85766f" stroke-opacity="0.3" stroke-width="3.3" stroke-linecap="round" fill="none"/>
<path d="M536.3,429.9 L541.8,429.3" stroke="#85766f" stroke-opacity="0.6" stroke-width="3.2" stroke-linecap="round" fill="none"/>
<path d="M541.8,429.3 L552.4,429.7" stroke="#85766f" stroke-opacity="0.75" stroke-width="3.4" stroke-linecap="round" fill="none"/>
<path d="M552.4,429.7 L560.5,429.3" stroke="#85766f" stroke-opacity="0.3" stroke-width="5.3" stroke-linecap="round" fill="none"/>
<path d="M560.5,429.3 L561.0,430.0" stroke="#85766f" stroke-opacity="0.3" stroke-width="3.8" stroke-linecap="round" fill="none"/>
<path d="M305.0,472.5 L310.4,472.8" stroke="#85766f" stroke-opacity="0.45" stroke-width="3.1" stroke-linecap="round" fill="none"/>
<path d="M310.4,472.8 L323.7,471.8" stroke="#85766f" stroke-opacity="0.9" stroke-width="4.6" stroke-linecap="round" fill="none"/>
<path d="M323.7,471.8 L336.1,471.3" stroke="#85766f" stroke-opacity="0.3" stroke-width="4.6" stroke-linecap="round" fill="none"/>
<path d="M336.1,471.3 L346.7,471.4" stroke="#85766f" stroke-opacity="0.6" stroke-width="3.5" stroke-linecap="round" fill="none"/>
<path d="M346.7,471.4 L353.6,471.8" stroke="#85766f" stroke-opacity="0.75" stroke-width="3.4" stroke-linecap="round" fill="none"/>
<path d="M353.6,471.8 L361.9,471.3" stroke="#85766f" stroke-opacity="0.9" stroke-width="5.0" stroke-linecap="round" fill="none"/>
<path d="M361.9,471.3 L368.6,472.8" stroke="#85766f" stroke-opacity="0.9" stroke-width="3.1" stroke-linecap="round" fill="none"/>
<path d="M368.6,472.8 L381.2,471.2" stroke="#85766f" stroke-opacity="0.75" stroke-width="4.1" stroke-linecap="round" fill="none"/>
<path d="M381.2,471.2 L393.8,472.6" stroke="#85766f" stroke-opacity="0.9" stroke-width="4.1" stroke-linecap="round" fill="none"/>
<path d="M393.8,472.6 L404.0,471.9" stroke="#85766f" stroke-opacity="0.9" stroke-width="3.9" stroke-linecap="round" fill="none"/>
<path d="M404.0,471.9 L413.6,471.4" stroke="#85766f" stroke-opacity="0.2" stroke-width="4.5" stroke-linecap="round" fill="none"/>
<path d="M413.6,471.4 L423.0,471.5" stroke="#85766f" stroke-opacity="0.75" stroke-width="4.9" stroke-linecap="round" fill="none"/>
<path d="M423.0,471.5 L432.1,471.4" stroke="#85766f" stroke-opacity="0.6" stroke-width="4.0" stroke-linecap="round" fill="none"/>
<path d="M432.1,471.4 L437.7,471.7" stroke="#85766f" stroke-opacity="0.45" stroke-width="3.2" stroke-linecap="round" fill="none"/>
<path d="M437.7,471.7 L446.7,472.0" stroke="#85766f" stroke-opacity="0.2" stroke-width="3.1" stroke-linecap="round" fill="none"/>
<path d="M446.7,472.0 L452.9,472.8" stroke="#85766f" stroke-opacity="0.45" stroke-width="4.9" stroke-linecap="round" fill="none"/>
<path d="M452.9,472.8 L462.5,471.1" stroke="#85766f" stroke-opacity="0.75" stroke-width="5.2" stroke-linecap="round" fill="none"/>
<path d="M462.5,471.1 L473.3,472.6" stroke="#85766f" stroke-opacity="0.2" stroke-width="5.1" stroke-linecap="round" fill="none"/>
<path d="M473.3,472.6 L487.3,472.5" stroke="#85766f" stroke-opacity="0.2" stroke-width="3.5" stroke-linecap="round" fill="none"/>
<path d="M487.3,472.5 L501.1,472.0" stroke="#85766f" stroke-opacity="0.3" stroke-width="4.7" stroke-linecap="round" fill="none"/>
<path d="M501.1,472.0 L512.6,471.4" stroke="#85766f" stroke-opacity="0.45" stroke-width="4.5" stroke-linecap="round" fill="none"/>
<path d="M512.6,471.4 L519.9,471.6" stroke="#85766f" stroke-opacity="0.75" stroke-width="3.7" stroke-linecap="round" fill="none"/>
<path d="M519.9,471.6 L532.2,471.3" stroke="#85766f" stroke-opacity="0.75" stroke-width="5.4" stroke-linecap="round" fill="none"/>
<path d="M532.2,471.3 L541.6,472.2" stroke="#85766f" stroke-opacity="0.75" stroke-width="4.3" stroke-linecap="round" fill="none"/>
<path d="M541.6,472.2 L549.4,471.1" stroke="#85766f" stroke-opacity="0.3" stroke-width="4.0" stroke-linecap="round" fill="none"/>
<path d="M549.4,471.1 L560.2,471.6" stroke="#85766f" stroke-opacity="0.45" stroke-width="5.2" stroke-linecap="round" fill="none"/>
<path d="M560.2,471.6 L561.0,472.6" stroke="#85766f" stroke-opacity="0.2" stroke-width="4.9" stroke-linecap="round" fill="none"/>
<path d="M334.5,8.0 L335.8,19.0" stroke="#85766f" stroke-opacity="0.75" stroke-width="4.1" stroke-linecap="round" fill="none"/>
<path d="M335.8,19.0 L335.7,27.5" stroke="#85766f" stroke-opacity="0.3" stroke-width="3.5" stroke-linecap="round" fill="none"/>
<path d="M400.0,8.0 L400.4,19.0" stroke="#85766f" stroke-opacity="0.6" stroke-width="3.5" stroke-linecap="round" fill="none"/>
<path d="M400.4,19.0 L400.1,27.5" stroke="#85766f" stroke-opacity="0.6" stroke-width="3.7" stroke-linecap="round" fill="none"/>
<path d="M468.5,8.0 L469.2,14.6" stroke="#85766f" stroke-opacity="0.3" stroke-width="3.6" stroke-linecap="round" fill="none"/>
<path d="M469.2,14.6 L468.7,23.2" stroke="#85766f" stroke-opacity="0.9" stroke-width="4.9" stroke-linecap="round" fill="none"/>
<path d="M468.7,23.2 L469.4,27.5" stroke="#85766f" stroke-opacity="0.3" stroke-width="3.4" stroke-linecap="round" fill="none"/>
<path d="M526.7,8.0 L526.9,17.4" stroke="#85766f" stroke-opacity="0.6" stroke-width="4.8" stroke-linecap="round" fill="none"/>
<path d="M526.9,17.4 L526.5,23.3" stroke="#85766f" stroke-opacity="0.3" stroke-width="3.0" stroke-linecap="round" fill="none"/>
<path d="M526.5,23.3 L526.7,27.5" stroke="#85766f" stroke-opacity="0.3" stroke-width="4.0" stroke-linecap="round" fill="none"/>
<path d="M430.0,27.5 L429.6,35.4" stroke="#85766f" stroke-opacity="0.45" stroke-width="3.4" stroke-linecap="round" fill="none"/>
<path d="M429.6,35.4 L430.0,44.8" stroke="#85766f" stroke-opacity="0.45" stroke-width="3.0" stroke-linecap="round" fill="none"/>
<path d="M430.0,44.8 L430.4,55.4" stroke="#85766f" stroke-opacity="0.75" stroke-width="3.2" stroke-linecap="round" fill="none"/>
<path d="M430.4,55.4 L430.7,64.8" stroke="#85766f" stroke-opacity="0.6" stroke-width="3.8" stroke-linecap="round" fill="none"/>
<path d="M430.7,64.8 L429.1,68.5" stroke="#85766f" stroke-opacity="0.9" stroke-width="4.8" stroke-linecap="round" fill="none"/>
<path d="M557.1,27.5 L557.2,36.5" stroke="#85766f" stroke-opacity="0.9" stroke-width="4.5" stroke-linecap="round" fill="none"/>
<path d="M557.2,36.5 L557.7,43.3" stroke="#85766f" stroke-opacity="0.3" stroke-width="3.1" stroke-linecap="round" fill="none"/>
<path d="M557.7,43.3 L556.4,48.5" stroke="#85766f" stroke-opacity="0.45" stroke-width="3.1" stroke-linecap="round" fill="none"/>
<path d="M556.4,48.5 L556.1,58.9" stroke="#85766f" stroke-opacity="0.9" stroke-width="4.3" stroke-linecap="round" fill="none"/>
<path d="M556.1,58.9 L556.8,65.3" stroke="#85766f" stroke-opacity="0.9" stroke-width="4.2" stroke-linecap="round" fill="none"/>
<path d="M556.8,65.3 L557.3,68.5" stroke="#85766f" stroke-opacity="0.9" stroke-width="3.3" stroke-linecap="round" fill="none"/>
<path d="M354.8,168.5 L354.2,175.6" stroke="#85766f" stroke-opacity="0.75" stroke-width="4.4" stroke-linecap="round" fill="none"/>
<path d="M354.2,175.6 L355.6,180.6" stroke="#85766f" stroke-opacity="0.75" stroke-width="3.2" stroke-linecap="round" fill="none"/>
<path d="M355.6,180.6 L354.4,190.2" stroke="#85766f" stroke-opacity="0.3" stroke-width="3.5" stroke-linecap="round" fill="none"/>
<path d="M354.4,190.2 L354.3,199.7" stroke="#85766f" stroke-opacity="0.6" stroke-width="4.4" stroke-linecap="round" fill="none"/>
<path d="M354.3,199.7 L355.1,206.6" stroke="#85766f" stroke-opacity="0.75" stroke-width="4.4" stroke-linecap="round" fill="none"/>
<path d="M355.1,206.6 L355.8,211.5" stroke="#85766f" stroke-opacity="0.6" stroke-width="4.3" stroke-linecap="round" fill="none"/>
<path d="M486.6,168.5 L486.7,175.0" stroke="#85766f" stroke-opacity="0.3" stroke-width="3.3" stroke-linecap="round" fill="none"/>
<path d="M486.7,175.0 L486.6,186.4" stroke="#85766f" stroke-opacity="0.45" stroke-width="4.9" stroke-linecap="round" fill="none"/>
<path d="M486.6,186.4 L485.7,196.6" stroke="#85766f" stroke-opacity="0.75" stroke-width="3.7" stroke-linecap="round" fill="none"/>
<path d="M485.7,196.6 L486.7,203.2" stroke="#85766f" stroke-opacity="0.9" stroke-width="3.9" stroke-linecap="round" fill="none"/>
<path d="M486.7,203.2 L486.4,211.5" stroke="#85766f" stroke-opacity="0.3" stroke-width="3.9" stroke-linecap="round" fill="none"/>
<path d="M331.3,211.5 L330.7,220.5" stroke="#85766f" stroke-opacity="0.45" stroke-width="3.8" stroke-linecap="round" fill="none"/>
<path d="M330.7,220.5 L331.1,229.6" stroke="#85766f" stroke-opacity="0.45" stroke-width="3.3" stroke-linecap="round" fill="none"/>
<path d="M331.1,229.6 L330.3,234.8" stroke="#85766f" stroke-opacity="0.45" stroke-width="3.7" stroke-linecap="round" fill="none"/>
<path d="M330.3,234.8 L330.2,240.8" stroke="#85766f" stroke-opacity="0.3" stroke-width="3.3" stroke-linecap="round" fill="none"/>
<path d="M330.2,240.8 L330.2,250.3" stroke="#85766f" stroke-opacity="0.3" stroke-width="4.5" stroke-linecap="round" fill="none"/>
<path d="M330.2,250.3 L331.2,254.5" stroke="#85766f" stroke-opacity="0.6" stroke-width="3.4" stroke-linecap="round" fill="none"/>
<path d="M399.5,211.5 L399.3,220.2" stroke="#85766f" stroke-opacity="0.75" stroke-width="3.2" stroke-linecap="round" fill="none"/>
<path d="M399.3,220.2 L398.3,226.7" stroke="#85766f" stroke-opacity="0.3" stroke-width="4.9" stroke-linecap="round" fill="none"/>
<path d="M398.3,226.7 L399.5,238.1" stroke="#85766f" stroke-opacity="0.3" stroke-width="4.7" stroke-linecap="round" fill="none"/>
<path d="M399.5,238.1 L398.6,247.5" stroke="#85766f" stroke-opacity="0.3" stroke-width="3.3" stroke-linecap="round" fill="none"/>
<path d="M398.6,247.5 L399.3,254.5" stroke="#85766f" stroke-opacity="0.6" stroke-width="3.6" stroke-linecap="round" fill="none"/>
<path d="M461.9,211.5 L461.6,216.6" stroke="#85766f" stroke-opacity="0.6" stroke-width="3.1" stroke-linecap="round" fill="none"/>
<path d="M461.6,216.6 L462.7,227.0" stroke="#85766f" stroke-opacity="0.9" stroke-width="4.0" stroke-linecap="round" fill="none"/>
<path d="M462.7,227.0 L462.2,237.9" stroke="#85766f" stroke-opacity="0.3" stroke-width="4.6" stroke-linecap="round" fill="none"/>
<path d="M462.2,237.9 L462.0,243.1" stroke="#85766f" stroke-opacity="0.3" stroke-width="3.7" stroke-linecap="round" fill="none"/>
<path d="M462.0,243.1 L462.1,253.1" stroke="#85766f" stroke-opacity="0.45" stroke-width="4.4" stroke-linecap="round" fill="none"/>
<path d="M462.1,253.1 L462.1,254.5" stroke="#85766f" stroke-opacity="0.6" stroke-width="3.3" stroke-linecap="round" fill="none"/>
<path d="M529.4,211.5 L530.5,217.9" stroke="#85766f" stroke-opacity="0.3" stroke-width="3.0" stroke-linecap="round" fill="none"/>
<path d="M530.5,217.9 L530.0,226.4" stroke="#85766f" stroke-opacity="0.45" stroke-width="4.9" stroke-linecap="round" fill="none"/>
<path d="M530.0,226.4 L530.8,235.5" stroke="#85766f" stroke-opacity="0.9" stroke-width="3.5" stroke-linecap="round" fill="none"/>
<path d="M530.8,235.5 L529.6,247.1" stroke="#85766f" stroke-opacity="0.45" stroke-width="4.9" stroke-linecap="round" fill="none"/>
<path d="M529.6,247.1 L529.4,253.7" stroke="#85766f" stroke-opacity="0.3" stroke-width="4.0" stroke-linecap="round" fill="none"/>
<path d="M529.4,253.7 L530.1,254.5" stroke="#85766f" stroke-opacity="0.3" stroke-width="4.3" stroke-linecap="round" fill="none"/>
<path d="M363.8,254.5 L363.8,262.3" stroke="#85766f" stroke-opacity="0.3" stroke-width="3.8" stroke-linecap="round" fill="none"/>
<path d="M363.8,262.3 L363.8,271.8" stroke="#85766f" stroke-opacity="0.6" stroke-width="3.5" stroke-linecap="round" fill="none"/>
<path d="M363.8,271.8 L364.0,283.1" stroke="#85766f" stroke-opacity="0.75" stroke-width="5.0" stroke-linecap="round" fill="none"/>
<path d="M364.0,283.1 L364.8,292.6" stroke="#85766f" stroke-opacity="0.45" stroke-width="4.1" stroke-linecap="round" fill="none"/>
<path d="M364.8,292.6 L364.5,297.5" stroke="#85766f" stroke-opacity="0.3" stroke-width="3.7" stroke-linecap="round" fill="none"/>
<path d="M497.8,254.5 L498.6,260.6" stroke="#85766f" stroke-opacity="0.9" stroke-width="4.5" stroke-linecap="round" fill="none"/>
<path d="M498.6,260.6 L497.9,266.8" stroke="#85766f" stroke-opacity="0.6" stroke-width="4.2" stroke-linecap="round" fill="none"/>
<path d="M497.9,266.8 L497.9,272.7" stroke="#85766f" stroke-opacity="0.45" stroke-width="4.0" stroke-linecap="round" fill="none"/>
<path d="M497.9,272.7 L498.5,279.5" stroke="#85766f" stroke-opacity="0.9" stroke-width="3.3" stroke-linecap="round" fill="none"/>
<path d="M498.5,279.5 L497.5,285.6" stroke="#85766f" stroke-opacity="0.6" stroke-width="4.2" stroke-linecap="round" fill="none"/>
<path d="M497.5,285.6 L497.5,293.1" stroke="#85766f" stroke-opacity="0.45" stroke-width="3.5" stroke-linecap="round" fill="none"/>
<path d="M497.5,293.1 L498.9,297.5" stroke="#85766f" stroke-opacity="0.45" stroke-width="4.9" stroke-linecap="round" fill="none"/>
<path d="M332.5,297.5 L333.9,305.2" stroke="#85766f" stroke-opacity="0.6" stroke-width="4.5" stroke-linecap="round" fill="none"/>
<path d="M333.9,305.2 L332.5,313.2" stroke="#85766f" stroke-opacity="0.3" stroke-width="3.6" stroke-linecap="round" fill="none"/>
<path d="M332.5,313.2 L332.9,324.4" stroke="#85766f" stroke-opacity="0.3" stroke-width="3.8" stroke-linecap="round" fill="none"/>
<path d="M332.9,324.4 L333.3,335.0" stroke="#85766f" stroke-opacity="0.9" stroke-width="5.0" stroke-linecap="round" fill="none"/>
<path d="M333.3,335.0 L332.1,342.0" stroke="#85766f" stroke-opacity="0.6" stroke-width="4.2" stroke-linecap="round" fill="none"/>
<path d="M401.9,297.5 L402.7,307.7" stroke="#85766f" stroke-opacity="0.75" stroke-width="4.4" stroke-linecap="round" fill="none"/>
<path d="M402.7,307.7 L402.3,316.8" stroke="#85766f" stroke-opacity="0.45" stroke-width="4.3" stroke-linecap="round" fill="none"/>
<path d="M402.3,316.8 L402.7,326.4" stroke="#85766f" stroke-opacity="0.9" stroke-width="4.7" stroke-linecap="round" fill="none"/>
<path d="M402.7,326.4 L402.3,336.1" stroke="#85766f" stroke-opacity="0.75" stroke-width="3.9" stroke-linecap="round" fill="none"/>
<path d="M402.3,336.1 L402.4,342.0" stroke="#85766f" stroke-opacity="0.75" stroke-width="3.5" stroke-linecap="round" fill="none"/>
<path d="M469.9,297.5 L469.4,307.5" stroke="#85766f" stroke-opacity="0.75" stroke-width="4.0" stroke-linecap="round" fill="none"/>
<path d="M469.4,307.5 L470.6,312.6" stroke="#85766f" stroke-opacity="0.9" stroke-width="4.4" stroke-linecap="round" fill="none"/>
<path d="M470.6,312.6 L469.4,324.1" stroke="#85766f" stroke-opacity="0.6" stroke-width="4.6" stroke-linecap="round" fill="none"/>
<path d="M469.4,324.1 L470.0,331.9" stroke="#85766f" stroke-opacity="0.3" stroke-width="3.1" stroke-linecap="round" fill="none"/>
<path d="M470.0,331.9 L469.4,340.7" stroke="#85766f" stroke-opacity="0.45" stroke-width="4.0" stroke-linecap="round" fill="none"/>
<path d="M469.4,340.7 L470.1,342.0" stroke="#85766f" stroke-opacity="0.9" stroke-width="3.4" stroke-linecap="round" fill="none"/>
<path d="M539.0,297.5 L539.5,302.6" stroke="#85766f" stroke-opacity="0.6" stroke-width="4.0" stroke-linecap="round" fill="none"/>
<path d="M539.5,302.6 L539.8,310.5" stroke="#85766f" stroke-opacity="0.45" stroke-width="5.0" stroke-linecap="round" fill="none"/>
<path d="M539.8,310.5 L539.0,316.8" stroke="#85766f" stroke-opacity="0.3" stroke-width="4.5" stroke-linecap="round" fill="none"/>
<path d="M539.0,316.8 L539.2,326.1" stroke="#85766f" stroke-opacity="0.6" stroke-width="3.5" stroke-linecap="round" fill="none"/>
<path d="M539.2,326.1 L538.1,333.9" stroke="#85766f" stroke-opacity="0.75" stroke-width="4.8" stroke-linecap="round" fill="none"/>
<path d="M538.1,333.9 L539.3,342.0" stroke="#85766f" stroke-opacity="0.9" stroke-width="3.5" stroke-linecap="round" fill="none"/>
<path d="M309.7,342.0 L310.8,352.2" stroke="#85766f" stroke-opacity="0.9" stroke-width="4.9" stroke-linecap="round" fill="none"/>
<path d="M310.8,352.2 L310.8,364.1" stroke="#85766f" stroke-opacity="0.75" stroke-width="3.4" stroke-linecap="round" fill="none"/>
<path d="M310.8,364.1 L310.5,370.1" stroke="#85766f" stroke-opacity="0.45" stroke-width="3.9" stroke-linecap="round" fill="none"/>
<path d="M310.5,370.1 L309.5,379.0" stroke="#85766f" stroke-opacity="0.45" stroke-width="3.7" stroke-linecap="round" fill="none"/>
<path d="M309.5,379.0 L310.6,383.0" stroke="#85766f" stroke-opacity="0.75" stroke-width="3.9" stroke-linecap="round" fill="none"/>
<path d="M442.8,342.0 L442.3,350.8" stroke="#85766f" stroke-opacity="0.75" stroke-width="3.7" stroke-linecap="round" fill="none"/>
<path d="M442.3,350.8 L442.6,361.8" stroke="#85766f" stroke-opacity="0.75" stroke-width="4.4" stroke-linecap="round" fill="none"/>
<path d="M442.6,361.8 L443.3,373.7" stroke="#85766f" stroke-opacity="0.75" stroke-width="3.0" stroke-linecap="round" fill="none"/>
<path d="M443.3,373.7 L442.6,383.0" stroke="#85766f" stroke-opacity="0.45" stroke-width="4.3" stroke-linecap="round" fill="none"/>
<path d="M336.8,383.0 L337.2,391.4" stroke="#85766f" stroke-opacity="0.3" stroke-width="4.3" stroke-linecap="round" fill="none"/>
<path d="M337.2,391.4 L337.8,398.9" stroke="#85766f" stroke-opacity="0.75" stroke-width="3.1" stroke-linecap="round" fill="none"/>
<path d="M337.8,398.9 L337.7,409.7" stroke="#85766f" stroke-opacity="0.45" stroke-width="4.1" stroke-linecap="round" fill="none"/>
<path d="M337.7,409.7 L337.1,417.1" stroke="#85766f" stroke-opacity="0.3" stroke-width="3.4" stroke-linecap="round" fill="none"/>
<path d="M337.1,417.1 L336.6,422.6" stroke="#85766f" stroke-opacity="0.9" stroke-width="3.2" stroke-linecap="round" fill="none"/>
<path d="M336.6,422.6 L336.5,428.6" stroke="#85766f" stroke-opacity="0.75" stroke-width="3.7" stroke-linecap="round" fill="none"/>
<path d="M336.5,428.6 L337.7,430.0" stroke="#85766f" stroke-opacity="0.9" stroke-width="3.3" stroke-linecap="round" fill="none"/>
<path d="M404.5,383.0 L404.5,392.3" stroke="#85766f" stroke-opacity="0.9" stroke-width="4.6" stroke-linecap="round" fill="none"/>
<path d="M404.5,392.3 L403.5,403.1" stroke="#85766f" stroke-opacity="0.45" stroke-width="4.1" stroke-linecap="round" fill="none"/>
<path d="M403.5,403.1 L403.9,413.3" stroke="#85766f" stroke-opacity="0.3" stroke-width="4.1" stroke-linecap="round" fill="none"/>
<path d="M403.9,413.3 L403.5,420.2" stroke="#85766f" stroke-opacity="0.45" stroke-width="3.9" stroke-linecap="round" fill="none"/>
<path d="M403.5,420.2 L404.0,429.1" stroke="#85766f" stroke-opacity="0.45" stroke-width="4.4" stroke-linecap="round" fill="none"/>
<path d="M404.0,429.1 L403.4,430.0" stroke="#85766f" stroke-opacity="0.9" stroke-width="4.7" stroke-linecap="round" fill="none"/>
<path d="M468.4,383.0 L468.9,393.9" stroke="#85766f" stroke-opacity="0.9" stroke-width="4.0" stroke-linecap="round" fill="none"/>
<path d="M468.9,393.9 L468.9,401.0" stroke="#85766f" stroke-opacity="0.75" stroke-width="3.8" stroke-linecap="round" fill="none"/>
<path d="M468.9,401.0 L468.2,412.7" stroke="#85766f" stroke-opacity="0.6" stroke-width="4.3" stroke-linecap="round" fill="none"/>
<path d="M468.2,412.7 L469.2,417.9" stroke="#85766f" stroke-opacity="0.6" stroke-width="4.6" stroke-linecap="round" fill="none"/>
<path d="M469.2,417.9 L469.0,423.5" stroke="#85766f" stroke-opacity="0.45" stroke-width="3.1" stroke-linecap="round" fill="none"/>
<path d="M469.0,423.5 L469.2,430.0" stroke="#85766f" stroke-opacity="0.6" stroke-width="3.2" stroke-linecap="round" fill="none"/>
<path d="M536.2,383.0 L536.5,390.4" stroke="#85766f" stroke-opacity="0.9" stroke-width="4.5" stroke-linecap="round" fill="none"/>
<path d="M536.5,390.4 L535.9,396.9" stroke="#85766f" stroke-opacity="0.75" stroke-width="3.5" stroke-linecap="round" fill="none"/>
<path d="M535.9,396.9 L535.6,402.2" stroke="#85766f" stroke-opacity="0.6" stroke-width="4.7" stroke-linecap="round" fill="none"/>
<path d="M535.6,402.2 L536.0,410.1" stroke="#85766f" stroke-opacity="0.6" stroke-width="4.7" stroke-linecap="round" fill="none"/>
<path d="M536.0,410.1 L535.5,417.5" stroke="#85766f" stroke-opacity="0.75" stroke-width="4.6" stroke-linecap="round" fill="none"/>
<path d="M535.5,417.5 L535.7,424.8" stroke="#85766f" stroke-opacity="0.6" stroke-width="3.3" stroke-linecap="round" fill="none"/>
<path d="M535.7,424.8 L535.3,430.0" stroke="#85766f" stroke-opacity="0.3" stroke-width="3.8" stroke-linecap="round" fill="none"/>
<path d="M436.1,430.0 L436.1,437.8" stroke="#85766f" stroke-opacity="0.75" stroke-width="3.6" stroke-linecap="round" fill="none"/>
<path d="M436.1,437.8 L435.4,442.9" stroke="#85766f" stroke-opacity="0.75" stroke-width="4.2" stroke-linecap="round" fill="none"/>
<path d="M435.4,442.9 L436.5,452.5" stroke="#85766f" stroke-opacity="0.9" stroke-width="4.2" stroke-linecap="round" fill="none"/>
<path d="M436.5,452.5 L436.2,461.8" stroke="#85766f" stroke-opacity="0.9" stroke-width="4.8" stroke-linecap="round" fill="none"/>
<path d="M436.2,461.8 L435.2,467.4" stroke="#85766f" stroke-opacity="0.75" stroke-width="4.3" stroke-linecap="round" fill="none"/>
<path d="M435.2,467.4 L436.3,472.0" stroke="#85766f" stroke-opacity="0.3" stroke-width="3.8" stroke-linecap="round" fill="none"/>
<path d="M340.5,472.0 L340.1,483.5" stroke="#85766f" stroke-opacity="0.45" stroke-width="4.6" stroke-linecap="round" fill="none"/>
<path d="M340.1,483.5 L340.6,492.4" stroke="#85766f" stroke-opacity="0.6" stroke-width="3.4" stroke-linecap="round" fill="none"/>
<path d="M340.6,492.4 L340.1,497.7" stroke="#85766f" stroke-opacity="0.9" stroke-width="4.3" stroke-linecap="round" fill="none"/>
<path d="M340.1,497.7 L340.2,504.0" stroke="#85766f" stroke-opacity="0.9" stroke-width="4.0" stroke-linecap="round" fill="none"/>
<path d="M407.4,472.0 L406.9,482.4" stroke="#85766f" stroke-opacity="0.75" stroke-width="3.9" stroke-linecap="round" fill="none"/>
<path d="M406.9,482.4 L406.8,487.5" stroke="#85766f" stroke-opacity="0.9" stroke-width="5.0" stroke-linecap="round" fill="none"/>
<path d="M406.8,487.5 L406.4,497.1" stroke="#85766f" stroke-opacity="0.75" stroke-width="4.1" stroke-linecap="round" fill="none"/>
<path d="M406.4,497.1 L406.9,502.7" stroke="#85766f" stroke-opacity="0.45" stroke-width="4.3" stroke-linecap="round" fill="none"/>
<path d="M406.9,502.7 L406.1,504.0" stroke="#85766f" stroke-opacity="0.3" stroke-width="5.0" stroke-linecap="round" fill="none"/>
<path d="M471.4,472.0 L470.3,478.5" stroke="#85766f" stroke-opacity="0.75" stroke-width="3.0" stroke-linecap="round" fill="none"/>
<path d="M470.3,478.5 L470.5,488.6" stroke="#85766f" stroke-opacity="0.45" stroke-width="4.8" stroke-linecap="round" fill="none"/>
<path d="M470.5,488.6 L471.4,496.1" stroke="#85766f" stroke-opacity="0.45" stroke-width="4.5" stroke-linecap="round" fill="none"/>
<path d="M471.4,496.1 L471.2,501.7" stroke="#85766f" stroke-opacity="0.75" stroke-width="3.9" stroke-linecap="round" fill="none"/>
<path d="M471.2,501.7 L470.6,504.0" stroke="#85766f" stroke-opacity="0.3" stroke-width="4.4" stroke-linecap="round" fill="none"/>
<path d="M533.4,472.0 L534.3,477.1" stroke="#85766f" stroke-opacity="0.9" stroke-width="3.2" stroke-linecap="round" fill="none"/>
<path d="M534.3,477.1 L534.4,484.3" stroke="#85766f" stroke-opacity="0.45" stroke-width="4.9" stroke-linecap="round" fill="none"/>
<path d="M534.4,484.3 L534.2,495.1" stroke="#85766f" stroke-opacity="0.6" stroke-width="3.7" stroke-linecap="round" fill="none"/>
<path d="M534.2,495.1 L533.9,504.0" stroke="#85766f" stroke-opacity="0.45" stroke-width="3.3" stroke-linecap="round" fill="none"/>
  </g></g>
</g>
<!-- frame border -->
<rect x="8.5" y="8.5" width="830.2" height="494.5" rx="30" ry="30" fill="none" stroke="#747474" stroke-width="1.35"/>

<!-- device -->
<path d="M161,39 Q225,35.5 288.7,39 L288.7,360.2 L161.5,360.2 Q156.5,200 161,39 Z" fill="url(#devL)"/>
<g clip-path="url(#devclip)">
<rect x="240" y="38" width="48.7" height="322.5" fill="#e5e5e8"/>
<!-- grille -->
<rect x="251" y="246" width="37.7" height="113.5" fill="#f2f2f4"/>
<g stroke="#48484c" stroke-width="1.45">
<line x1="251" y1="246.0" x2="288.7" y2="246.0"/>
<line x1="251" y1="251.2" x2="288.7" y2="251.2"/>
<line x1="251" y1="256.4" x2="288.7" y2="256.4"/>
<line x1="251" y1="261.6" x2="288.7" y2="261.6"/>
<line x1="251" y1="266.8" x2="288.7" y2="266.8"/>
<line x1="251" y1="272.0" x2="288.7" y2="272.0"/>
<line x1="251" y1="277.2" x2="288.7" y2="277.2"/>
<line x1="251" y1="282.4" x2="288.7" y2="282.4"/>
<line x1="251" y1="287.6" x2="288.7" y2="287.6"/>
<line x1="251" y1="292.8" x2="288.7" y2="292.8"/>
<line x1="251" y1="298.0" x2="288.7" y2="298.0"/>
<line x1="251" y1="303.2" x2="288.7" y2="303.2"/>
<line x1="251" y1="308.4" x2="288.7" y2="308.4"/>
<line x1="251" y1="313.6" x2="288.7" y2="313.6"/>
<line x1="251" y1="318.8" x2="288.7" y2="318.8"/>
<line x1="251" y1="324.0" x2="288.7" y2="324.0"/>
<line x1="251" y1="329.2" x2="288.7" y2="329.2"/>
<line x1="251" y1="334.4" x2="288.7" y2="334.4"/>
<line x1="251" y1="339.6" x2="288.7" y2="339.6"/>
<line x1="251" y1="344.8" x2="288.7" y2="344.8"/>
<line x1="251" y1="350.0" x2="288.7" y2="350.0"/>
<line x1="251" y1="355.2" x2="288.7" y2="355.2"/>
</g>
<line x1="251.5" y1="246" x2="251.5" y2="360.2" stroke="#3e3e42" stroke-width="1.4"/>
<!-- divider -->
<rect x="235.8" y="38" width="5.3" height="322.5" fill="#545458"/>
<line x1="238.5" y1="38" x2="238.5" y2="360.2" stroke="#8e8e92" stroke-width="1.1"/>
</g>
<path d="M161,39 Q225,35.5 288.7,39 L288.7,360.2 L161.5,360.2 Q156.5,200 161,39 Z" fill="none" stroke="#38383c" stroke-width="1.5"/>

<!-- pipe -->
<path id="pipe" d="M289,73.2 L670,73.2 Q688,73.2 686.3,90 L665.5,152.5 Q660,165.2 643.5,165.2 L289,165.2 Z" fill="url(#pipeg)" stroke="#3a3a3e" stroke-width="1.5"/>
<rect x="290" y="74" width="34" height="90.4" fill="url(#pipeL)"/>
<rect x="592" y="131.4" width="36" height="33.8" fill="url(#sq)" stroke="#3a3a3e" stroke-width="1.3"/>
<line x1="632.6" y1="73.2" x2="632.6" y2="165.2" stroke="#45454a" stroke-width="1.4"/>
<line x1="638.3" y1="73.2" x2="638.3" y2="165.2" stroke="#45454a" stroke-width="1.4"/>

<!-- heat exchanger blob -->
<g clip-path="url(#blobclip)">
  <rect x="300" y="75" width="200" height="85" fill="#4f5053"/>
  <g filter="url(#soft)" fill="url(#hx)">
    <rect x="300" y="91.8" width="200" height="6.8"/>
    <rect x="300" y="107.5" width="200" height="6.8"/>
    <rect x="300" y="123.1" width="200" height="6.8"/>
    <rect x="300" y="138.8" width="200" height="6.8"/>
  </g>
</g>
<path d="M314,109 C313,100 318,94 326,91.5 C331,90 334,88 337,86 C343,83 356,82.5 364,83.5 C373,84.5 381,87.5 390,89.8 C396,91.5 402,90.5 410,89 C420,87 436,86.5 448,87.5 C462,89 476,95 482,104 C486,112 482,121 472,128.5 C462,135 448,140 436,142.5 C430,144 426,149 420,150.8 C413,152 405,150.5 395,150.4 C380,150.3 362,150 352,147.5 C346,145 344,138 340,134 C335,130 326,127 320,124 C315,120 314.5,115 314,109 Z" fill="none" stroke="#2f2f33" stroke-width="1.4"/>

<!-- blue arrow -->
<path d="M682,126.7 L734.3,96.2 L734.3,113 L772.6,113 L772.6,140 L734.3,140 L734.3,156.7 Z" fill="#0a74c0"/>

<!-- brown arrow left -->
<path d="M134.2,275.2 L217.8,275.2 L217.8,260.7 L262.5,286.2 L217.8,311.4 L217.8,297.1 L134.2,297.1 Z" fill="#7c6d62"/>

<!-- brown curved arrow right -->
<path d="M594,176 L628.8,176 C629,200 640,220 662,235 L674,225.8 L680.5,263.3 L632.8,263.3 L643,255 C612,232 594,205 594,176 Z" fill="#7c6d62"/>

<!-- red curved arrow -->
<path d="M216.3,368.3 L248.5,368.3 C248.5,405 232,432 205,453 L215,463 L154.7,465.7 L165.4,418.6 L180.7,431.4 C200,415 216,395 216.3,368.3 Z" fill="#ed1e27"/>
</svg>

<div class="t" style="left:743.9px;top:146.53px;font-size:23px;transform:scaleX(0.826)">Приток</div><div class="t" style="left:744.6px;top:174.03px;font-size:23px;transform:scaleX(0.861)">свежего</div><div class="t" style="left:744.7px;top:201.33px;font-size:23px;transform:scaleX(0.861)">воздуха</div><div class="t" style="left:621.4px;top:275.53px;font-size:23px;transform:scaleX(0.806)">Выброс воздуха</div><div class="t" style="left:622.0px;top:305.43px;font-size:23px;transform:scaleX(0.803)">из помещения</div><div class="t" style="left:622.0px;top:333.93px;font-size:23px;transform:scaleX(0.792)">наружу</div><div class="t" style="left:20.9px;top:263.83px;font-size:23px;transform:scaleX(0.824)">Вывод</div><div class="t" style="left:22.4px;top:290.83px;font-size:23px;transform:scaleX(0.87)">воздуха</div><div class="t" style="left:22.4px;top:319.63px;font-size:23px;transform:scaleX(0.873)">из помещений</div><div class="t" style="left:16.9px;top:417.21px;font-size:23.5px;transform:scaleX(0.877)">Приток</div><div class="t" style="left:17.4px;top:440.21px;font-size:23.5px;transform:scaleX(0.906)">подогретого</div><div class="t" style="left:17.4px;top:463.31px;font-size:23.5px;transform:scaleX(0.907)">и чистого воздуха</div>
</div></body></html>
